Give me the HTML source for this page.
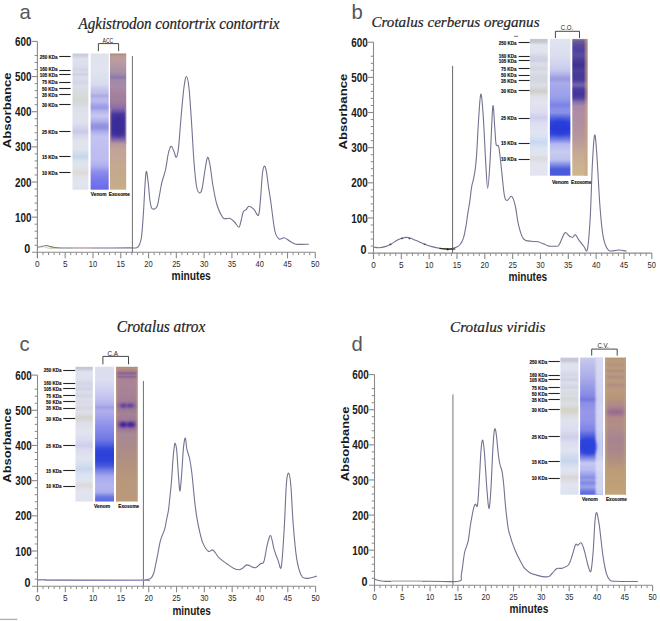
<!DOCTYPE html>
<html><head><meta charset="utf-8"><style>
html,body{margin:0;padding:0;background:#fff;}
body{width:660px;height:621px;overflow:hidden;font-family:"Liberation Sans",sans-serif;}
svg{display:block;}
</style></head><body>
<svg width="660" height="621" viewBox="0 0 660 621">
<defs>
<linearGradient id="a1" gradientUnits="userSpaceOnUse" x1="0" y1="53.5" x2="0" y2="189.7"><stop offset="0.0000" stop-color="#c6cad8"/><stop offset="0.0184" stop-color="#ced0de"/><stop offset="0.0404" stop-color="#dee0ec"/><stop offset="0.0918" stop-color="#dcdeec"/><stop offset="0.1211" stop-color="#d2d5e6"/><stop offset="0.1358" stop-color="#dadcea"/><stop offset="0.1527" stop-color="#ced0e4"/><stop offset="0.1725" stop-color="#dcdeec"/><stop offset="0.2166" stop-color="#d3d6e6"/><stop offset="0.2386" stop-color="#dcdfea"/><stop offset="0.2606" stop-color="#d8dce4"/><stop offset="0.2974" stop-color="#d8dcde"/><stop offset="0.3341" stop-color="#d5d8d5"/><stop offset="0.3708" stop-color="#d6dad8"/><stop offset="0.4001" stop-color="#dee0e8"/><stop offset="0.5029" stop-color="#e0e2f0"/><stop offset="0.5470" stop-color="#d2d4ea"/><stop offset="0.5742" stop-color="#c9c9e7"/><stop offset="0.5984" stop-color="#d5d6ec"/><stop offset="0.6498" stop-color="#e2e4ee"/><stop offset="0.7085" stop-color="#dce4ee"/><stop offset="0.7584" stop-color="#c4d6ec"/><stop offset="0.7893" stop-color="#dae2ee"/><stop offset="0.8260" stop-color="#e2e4ee"/><stop offset="0.8759" stop-color="#dddad8"/><stop offset="0.9141" stop-color="#e2e4ec"/><stop offset="0.9655" stop-color="#e2e4ee"/><stop offset="1.0000" stop-color="#dee0ee"/></linearGradient>
<linearGradient id="a2" gradientUnits="userSpaceOnUse" x1="0" y1="53.5" x2="0" y2="189.7"><stop offset="0.0000" stop-color="#e0e2ee"/><stop offset="0.1211" stop-color="#e1e4ee"/><stop offset="0.2239" stop-color="#dadcee"/><stop offset="0.2606" stop-color="#c8c8ec"/><stop offset="0.2900" stop-color="#bebeea"/><stop offset="0.3120" stop-color="#aaaae1"/><stop offset="0.3341" stop-color="#bcbcec"/><stop offset="0.3561" stop-color="#b8b8ee"/><stop offset="0.3781" stop-color="#a4a4e8"/><stop offset="0.4001" stop-color="#9898e6"/><stop offset="0.4222" stop-color="#b4b4ee"/><stop offset="0.4589" stop-color="#c8c8f0"/><stop offset="0.4956" stop-color="#b0b0ec"/><stop offset="0.5250" stop-color="#9494e2"/><stop offset="0.5470" stop-color="#9090e1"/><stop offset="0.5764" stop-color="#b0b0ec"/><stop offset="0.6131" stop-color="#c4c4f0"/><stop offset="0.7085" stop-color="#bebef0"/><stop offset="0.7819" stop-color="#bcbcf0"/><stop offset="0.8260" stop-color="#aeaef0"/><stop offset="0.8700" stop-color="#8c8cec"/><stop offset="0.9288" stop-color="#7878eb"/><stop offset="1.0000" stop-color="#6a6aea"/></linearGradient>
<linearGradient id="a3" gradientUnits="userSpaceOnUse" x1="0" y1="53.5" x2="0" y2="189.7"><stop offset="0.0000" stop-color="#a88474"/><stop offset="0.0184" stop-color="#be9c94"/><stop offset="0.0551" stop-color="#bc9ca0"/><stop offset="0.0991" stop-color="#b096a4"/><stop offset="0.1358" stop-color="#a890a8"/><stop offset="0.1579" stop-color="#9c84a8"/><stop offset="0.1762" stop-color="#8c78ac"/><stop offset="0.1946" stop-color="#a088ac"/><stop offset="0.2386" stop-color="#a88aa8"/><stop offset="0.3047" stop-color="#a4809e"/><stop offset="0.3561" stop-color="#a07ca0"/><stop offset="0.3928" stop-color="#9070a6"/><stop offset="0.4222" stop-color="#6c54a8"/><stop offset="0.4442" stop-color="#4a3a9e"/><stop offset="0.4883" stop-color="#40329a"/><stop offset="0.5617" stop-color="#40329a"/><stop offset="0.5984" stop-color="#4a3aa0"/><stop offset="0.6204" stop-color="#6c58a6"/><stop offset="0.6424" stop-color="#9478a4"/><stop offset="0.6645" stop-color="#b8989c"/><stop offset="0.7085" stop-color="#c2a498"/><stop offset="0.8186" stop-color="#c4a890"/><stop offset="0.9288" stop-color="#c6aa8a"/><stop offset="1.0000" stop-color="#c8ae88"/></linearGradient>
<clipPath id="a3c"><rect x="110.00" y="53.50" width="16.20" height="136.20"/></clipPath>
<filter id="bl14" x="-50%" y="-50%" width="200%" height="200%"><feGaussianBlur stdDeviation="1.40"/></filter>
<linearGradient id="a3l" x1="0" y1="0" x2="1" y2="0"><stop offset="0" stop-color="#c09aa0" stop-opacity="0.85"/><stop offset="1" stop-color="#c09aa0" stop-opacity="0.00"/></linearGradient>
<linearGradient id="a3r" x1="0" y1="0" x2="1" y2="0"><stop offset="0" stop-color="#c09aa0" stop-opacity="0.00"/><stop offset="1" stop-color="#c09aa0" stop-opacity="0.85"/></linearGradient>
<linearGradient id="b1" gradientUnits="userSpaceOnUse" x1="0" y1="38.9" x2="0" y2="175.7"><stop offset="0.0000" stop-color="#c2c6d2"/><stop offset="0.0197" stop-color="#c4c7d3"/><stop offset="0.0446" stop-color="#e2e4ee"/><stop offset="0.0958" stop-color="#e0e2ee"/><stop offset="0.1301" stop-color="#d2d6e4"/><stop offset="0.1564" stop-color="#ced0e1"/><stop offset="0.1835" stop-color="#dcdeea"/><stop offset="0.2200" stop-color="#d3d6e0"/><stop offset="0.2420" stop-color="#dcdee8"/><stop offset="0.2639" stop-color="#d6d8e2"/><stop offset="0.3048" stop-color="#d3d6de"/><stop offset="0.3370" stop-color="#dcdee6"/><stop offset="0.3838" stop-color="#cecec9"/><stop offset="0.4174" stop-color="#dee0e6"/><stop offset="0.4613" stop-color="#e2e4ee"/><stop offset="0.5344" stop-color="#dcdef0"/><stop offset="0.5760" stop-color="#ceceec"/><stop offset="0.6148" stop-color="#dcdef0"/><stop offset="0.6806" stop-color="#e2e4f1"/><stop offset="0.7171" stop-color="#d8e2f2"/><stop offset="0.7558" stop-color="#c9d8f1"/><stop offset="0.7975" stop-color="#dce4f2"/><stop offset="0.8414" stop-color="#e2e4f0"/><stop offset="0.8721" stop-color="#dddadd"/><stop offset="0.9145" stop-color="#e2e4f0"/><stop offset="1.0000" stop-color="#e2e4f1"/></linearGradient>
<linearGradient id="b2" gradientUnits="userSpaceOnUse" x1="0" y1="38.9" x2="0" y2="175.7"><stop offset="0.0000" stop-color="#e1e4f0"/><stop offset="0.1177" stop-color="#dcdef0"/><stop offset="0.1908" stop-color="#d0d2f0"/><stop offset="0.2273" stop-color="#c8c8ee"/><stop offset="0.2566" stop-color="#b4b4ea"/><stop offset="0.2931" stop-color="#9898e1"/><stop offset="0.3224" stop-color="#a8abea"/><stop offset="0.3735" stop-color="#a0a5eb"/><stop offset="0.4174" stop-color="#9aa0ea"/><stop offset="0.4539" stop-color="#8e94e8"/><stop offset="0.4832" stop-color="#7a80e6"/><stop offset="0.5124" stop-color="#8890e8"/><stop offset="0.5417" stop-color="#8890e8"/><stop offset="0.5709" stop-color="#5a6ae0"/><stop offset="0.6075" stop-color="#3248dc"/><stop offset="0.6513" stop-color="#283cd8"/><stop offset="0.6952" stop-color="#3448da"/><stop offset="0.7317" stop-color="#6c78e2"/><stop offset="0.7683" stop-color="#b4b8ee"/><stop offset="0.8268" stop-color="#c8ccf0"/><stop offset="0.8852" stop-color="#bcc0ee"/><stop offset="0.9218" stop-color="#7c88e4"/><stop offset="0.9510" stop-color="#4c5cdc"/><stop offset="1.0000" stop-color="#4a5ade"/></linearGradient>
<clipPath id="b2c"><rect x="549.90" y="38.90" width="20.50" height="136.80"/></clipPath>
<filter id="bl16" x="-50%" y="-50%" width="200%" height="200%"><feGaussianBlur stdDeviation="1.60"/></filter>
<clipPath id="c2c"><rect x="95.10" y="366.80" width="18.90" height="134.70"/></clipPath>
<linearGradient id="b3" gradientUnits="userSpaceOnUse" x1="0" y1="38.9" x2="0" y2="175.7"><stop offset="0.0000" stop-color="#988488"/><stop offset="0.0154" stop-color="#6c5c9c"/><stop offset="0.0446" stop-color="#5a4a9e"/><stop offset="0.0811" stop-color="#4e40a0"/><stop offset="0.1177" stop-color="#5a4c9c"/><stop offset="0.1542" stop-color="#4a3c98"/><stop offset="0.1908" stop-color="#3e3290"/><stop offset="0.2346" stop-color="#4c3e9a"/><stop offset="0.2712" stop-color="#463896"/><stop offset="0.3004" stop-color="#4a3c9c"/><stop offset="0.3370" stop-color="#7464ae"/><stop offset="0.3662" stop-color="#4c3ca0"/><stop offset="0.4028" stop-color="#42349e"/><stop offset="0.4320" stop-color="#5040a0"/><stop offset="0.4613" stop-color="#8870a8"/><stop offset="0.4905" stop-color="#a888a8"/><stop offset="0.5344" stop-color="#ae8ca4"/><stop offset="0.6294" stop-color="#b0909e"/><stop offset="0.7390" stop-color="#b8989a"/><stop offset="0.8268" stop-color="#c4a896"/><stop offset="0.9218" stop-color="#ccb290"/><stop offset="1.0000" stop-color="#d0b68c"/></linearGradient>
<linearGradient id="b3e" x1="0" y1="0" x2="1" y2="0"><stop offset="0" stop-color="#caa284" stop-opacity="0.00"/><stop offset="1" stop-color="#caa284" stop-opacity="0.90"/></linearGradient>
<linearGradient id="c1" gradientUnits="userSpaceOnUse" x1="0" y1="366.8" x2="0" y2="501.5"><stop offset="0.0000" stop-color="#c2c6d2"/><stop offset="0.0126" stop-color="#c4c9d8"/><stop offset="0.0386" stop-color="#e0e2ee"/><stop offset="0.0906" stop-color="#dee0ee"/><stop offset="0.1232" stop-color="#d2d6e6"/><stop offset="0.1425" stop-color="#d8daea"/><stop offset="0.1611" stop-color="#d0d3e6"/><stop offset="0.1871" stop-color="#dcdeec"/><stop offset="0.2153" stop-color="#d3d6e4"/><stop offset="0.2390" stop-color="#dcdeea"/><stop offset="0.2613" stop-color="#d8dae6"/><stop offset="0.2836" stop-color="#dcdee8"/><stop offset="0.3059" stop-color="#d5d6e0"/><stop offset="0.3356" stop-color="#dee0e8"/><stop offset="0.3801" stop-color="#d3d3ce"/><stop offset="0.4172" stop-color="#dee0e8"/><stop offset="0.4840" stop-color="#e2e4ee"/><stop offset="0.5434" stop-color="#dadcf0"/><stop offset="0.5828" stop-color="#ceceea"/><stop offset="0.6177" stop-color="#dadcf0"/><stop offset="0.6771" stop-color="#e2e4f0"/><stop offset="0.7216" stop-color="#d6e0ef"/><stop offset="0.7587" stop-color="#c9d6ee"/><stop offset="0.7958" stop-color="#dae2f0"/><stop offset="0.8404" stop-color="#e2e4f0"/><stop offset="0.8805" stop-color="#dddada"/><stop offset="0.9220" stop-color="#e2e4ee"/><stop offset="1.0000" stop-color="#e0e2ef"/></linearGradient>
<linearGradient id="c2" gradientUnits="userSpaceOnUse" x1="0" y1="366.8" x2="0" y2="501.5"><stop offset="0.0000" stop-color="#dcdeee"/><stop offset="0.0980" stop-color="#dcdef0"/><stop offset="0.1871" stop-color="#cccdf0"/><stop offset="0.2465" stop-color="#bebef0"/><stop offset="0.2762" stop-color="#b4b4ec"/><stop offset="0.3022" stop-color="#a0a0e6"/><stop offset="0.3281" stop-color="#b0b0ee"/><stop offset="0.3801" stop-color="#a0a0ec"/><stop offset="0.4395" stop-color="#8e90ea"/><stop offset="0.4989" stop-color="#7c82e6"/><stop offset="0.5434" stop-color="#6e76e4"/><stop offset="0.5805" stop-color="#5060e0"/><stop offset="0.6102" stop-color="#3248da"/><stop offset="0.6548" stop-color="#2a40d8"/><stop offset="0.6993" stop-color="#3046da"/><stop offset="0.7365" stop-color="#4a58de"/><stop offset="0.7736" stop-color="#7c84e6"/><stop offset="0.8107" stop-color="#a4a8ee"/><stop offset="0.8775" stop-color="#b4b6f0"/><stop offset="0.9295" stop-color="#acb0ee"/><stop offset="0.9666" stop-color="#6a78e4"/><stop offset="1.0000" stop-color="#5a68e2"/></linearGradient>
<linearGradient id="c3" gradientUnits="userSpaceOnUse" x1="0" y1="366.8" x2="0" y2="501.5"><stop offset="0.0000" stop-color="#b08a6c"/><stop offset="0.0126" stop-color="#b89078"/><stop offset="0.0275" stop-color="#a88496"/><stop offset="0.0497" stop-color="#8a6490"/><stop offset="0.0609" stop-color="#a07c96"/><stop offset="0.0742" stop-color="#8c6690"/><stop offset="0.0906" stop-color="#a88496"/><stop offset="0.1351" stop-color="#a88496"/><stop offset="0.2094" stop-color="#a68294"/><stop offset="0.2539" stop-color="#a07c98"/><stop offset="0.2873" stop-color="#8c6a9a"/><stop offset="0.3133" stop-color="#9c7898"/><stop offset="0.3504" stop-color="#a68294"/><stop offset="0.3875" stop-color="#9e7c98"/><stop offset="0.4284" stop-color="#7e5c98"/><stop offset="0.4618" stop-color="#987698"/><stop offset="0.4989" stop-color="#a88a94"/><stop offset="0.5805" stop-color="#aa8a8c"/><stop offset="0.6919" stop-color="#b09080"/><stop offset="0.8404" stop-color="#b8987c"/><stop offset="1.0000" stop-color="#ba9a7a"/></linearGradient>
<clipPath id="c3c"><rect x="116.00" y="366.80" width="21.60" height="134.70"/></clipPath>
<filter id="bl9" x="-50%" y="-50%" width="200%" height="200%"><feGaussianBlur stdDeviation="0.90"/></filter>
<linearGradient id="c3l" x1="0" y1="0" x2="1" y2="0"><stop offset="0" stop-color="#c49a7a" stop-opacity="0.85"/><stop offset="1" stop-color="#c49a7a" stop-opacity="0.00"/></linearGradient>
<linearGradient id="c3r" x1="0" y1="0" x2="1" y2="0"><stop offset="0" stop-color="#c49a7a" stop-opacity="0.00"/><stop offset="1" stop-color="#c49a7a" stop-opacity="0.85"/></linearGradient>
<linearGradient id="d1" gradientUnits="userSpaceOnUse" x1="0" y1="357.6" x2="0" y2="494.7"><stop offset="0.0000" stop-color="#caccda"/><stop offset="0.0197" stop-color="#c4c6d3"/><stop offset="0.0467" stop-color="#e0e2ee"/><stop offset="0.0904" stop-color="#dee0ee"/><stop offset="0.1291" stop-color="#d3d6e4"/><stop offset="0.1415" stop-color="#dadcea"/><stop offset="0.1597" stop-color="#cfd2e3"/><stop offset="0.1853" stop-color="#dcdeea"/><stop offset="0.2181" stop-color="#d1d4e3"/><stop offset="0.2363" stop-color="#dcdee8"/><stop offset="0.2633" stop-color="#d8dae2"/><stop offset="0.2801" stop-color="#dcdee6"/><stop offset="0.2969" stop-color="#d3d8d8"/><stop offset="0.3384" stop-color="#dcdee6"/><stop offset="0.3822" stop-color="#d3d3c4"/><stop offset="0.4187" stop-color="#dadcdc"/><stop offset="0.4551" stop-color="#e0e2ee"/><stop offset="0.5281" stop-color="#dcdef0"/><stop offset="0.5791" stop-color="#ceceea"/><stop offset="0.6156" stop-color="#dadcf0"/><stop offset="0.6740" stop-color="#e2e4ef"/><stop offset="0.7177" stop-color="#d2dcf0"/><stop offset="0.7564" stop-color="#c4d6ee"/><stop offset="0.7907" stop-color="#d8e0f0"/><stop offset="0.8271" stop-color="#e2e4f0"/><stop offset="0.8745" stop-color="#d8d6d8"/><stop offset="0.9220" stop-color="#e2e4ee"/><stop offset="1.0000" stop-color="#dee2f0"/></linearGradient>
<linearGradient id="d2" gradientUnits="userSpaceOnUse" x1="0" y1="357.6" x2="0" y2="494.7"><stop offset="0.0000" stop-color="#c8caee"/><stop offset="0.0540" stop-color="#bcbeec"/><stop offset="0.1269" stop-color="#aeb0ea"/><stop offset="0.1999" stop-color="#9c9ee6"/><stop offset="0.2509" stop-color="#8e90e6"/><stop offset="0.2801" stop-color="#8888e4"/><stop offset="0.3049" stop-color="#7478e0"/><stop offset="0.3311" stop-color="#8c8ee6"/><stop offset="0.3968" stop-color="#9898e8"/><stop offset="0.4697" stop-color="#9292e8"/><stop offset="0.5281" stop-color="#7c84e6"/><stop offset="0.5718" stop-color="#4c60e0"/><stop offset="0.6083" stop-color="#3248de"/><stop offset="0.6594" stop-color="#2e44dc"/><stop offset="0.6958" stop-color="#4052de"/><stop offset="0.7323" stop-color="#8088e6"/><stop offset="0.7688" stop-color="#c4c8f0"/><stop offset="0.8198" stop-color="#b8bcf0"/><stop offset="0.8745" stop-color="#8890e6"/><stop offset="0.8928" stop-color="#969ee8"/><stop offset="0.9139" stop-color="#8088e4"/><stop offset="0.9438" stop-color="#9ca4ea"/><stop offset="0.9730" stop-color="#6c78e2"/><stop offset="1.0000" stop-color="#5462e0"/></linearGradient>
<linearGradient id="d2h" x1="0" y1="0" x2="1" y2="0"><stop offset="0" stop-color="#dcdef2" stop-opacity="0"/><stop offset="0.35" stop-color="#dcdef2" stop-opacity="0.85"/><stop offset="1" stop-color="#dcdef2" stop-opacity="0.9"/></linearGradient>
<linearGradient id="d2v" gradientUnits="userSpaceOnUse" x1="0" y1="357.6" x2="0" y2="494.7"><stop offset="0.0000" stop-color="#fff"/><stop offset="0.5135" stop-color="#fff"/><stop offset="0.5864" stop-color="#202020"/><stop offset="0.6885" stop-color="#202020"/><stop offset="0.7615" stop-color="#b0b0b0"/><stop offset="0.8563" stop-color="#999"/><stop offset="1.0000" stop-color="#777"/></linearGradient>
<mask id="d2mask" maskUnits="userSpaceOnUse" x="580" y="357" width="24" height="138"><rect x="580" y="357.6" width="24" height="137.1" fill="url(#d2v)"/></mask>
<linearGradient id="d3" gradientUnits="userSpaceOnUse" x1="0" y1="357.6" x2="0" y2="494.7"><stop offset="0.0000" stop-color="#b09070"/><stop offset="0.0175" stop-color="#bc9c7c"/><stop offset="0.0540" stop-color="#b4927e"/><stop offset="0.0759" stop-color="#bc9c7c"/><stop offset="0.0977" stop-color="#b08e82"/><stop offset="0.1196" stop-color="#bc9c7c"/><stop offset="0.1415" stop-color="#b08e82"/><stop offset="0.1707" stop-color="#bc9c7c"/><stop offset="0.1999" stop-color="#b28e84"/><stop offset="0.2363" stop-color="#bc9c7c"/><stop offset="0.2947" stop-color="#b89478"/><stop offset="0.3457" stop-color="#b08a86"/><stop offset="0.3968" stop-color="#a07490"/><stop offset="0.4406" stop-color="#b08a86"/><stop offset="0.4916" stop-color="#b48e84"/><stop offset="0.5427" stop-color="#ac8a8c"/><stop offset="0.6010" stop-color="#a8848e"/><stop offset="0.6740" stop-color="#aa868c"/><stop offset="0.7469" stop-color="#b0907e"/><stop offset="0.8198" stop-color="#bc9c78"/><stop offset="1.0000" stop-color="#c2a278"/></linearGradient>
<clipPath id="d3c"><rect x="605.10" y="357.60" width="20.90" height="137.10"/></clipPath>
<filter id="bl10" x="-50%" y="-50%" width="200%" height="200%"><feGaussianBlur stdDeviation="1.00"/></filter>
<clipPath id="d2c"><rect x="580.10" y="357.60" width="22.70" height="137.10"/></clipPath>
<filter id="bl15" x="-50%" y="-50%" width="200%" height="200%"><feGaussianBlur stdDeviation="1.50"/></filter>
<linearGradient id="d3l" x1="0" y1="0" x2="1" y2="0"><stop offset="0" stop-color="#c4a07a" stop-opacity="0.80"/><stop offset="1" stop-color="#c4a07a" stop-opacity="0.00"/></linearGradient>
<linearGradient id="d3r" x1="0" y1="0" x2="1" y2="0"><stop offset="0" stop-color="#c4a07a" stop-opacity="0.00"/><stop offset="1" stop-color="#c4a07a" stop-opacity="0.80"/></linearGradient>
</defs>
<rect width="660" height="621" fill="#fff"/>
<line x1="37.4" y1="41.4" x2="37.4" y2="258.3" stroke="#8a8a8a" stroke-width="1.1"/>
<line x1="31.9" y1="252.3" x2="315.3" y2="252.3" stroke="#8a8a8a" stroke-width="1.1"/>
<line x1="34.6" y1="245.27" x2="37.4" y2="245.27" stroke="#8a8a8a" stroke-width="1"/>
<line x1="34.6" y1="238.24" x2="37.4" y2="238.24" stroke="#8a8a8a" stroke-width="1"/>
<line x1="34.6" y1="231.21" x2="37.4" y2="231.21" stroke="#8a8a8a" stroke-width="1"/>
<line x1="34.6" y1="224.18" x2="37.4" y2="224.18" stroke="#8a8a8a" stroke-width="1"/>
<line x1="31.9" y1="217.15" x2="37.4" y2="217.15" stroke="#8a8a8a" stroke-width="1.1"/>
<line x1="34.6" y1="210.12" x2="37.4" y2="210.12" stroke="#8a8a8a" stroke-width="1"/>
<line x1="34.6" y1="203.09" x2="37.4" y2="203.09" stroke="#8a8a8a" stroke-width="1"/>
<line x1="34.6" y1="196.06" x2="37.4" y2="196.06" stroke="#8a8a8a" stroke-width="1"/>
<line x1="34.6" y1="189.03" x2="37.4" y2="189.03" stroke="#8a8a8a" stroke-width="1"/>
<line x1="31.9" y1="182.00" x2="37.4" y2="182.00" stroke="#8a8a8a" stroke-width="1.1"/>
<line x1="34.6" y1="174.97" x2="37.4" y2="174.97" stroke="#8a8a8a" stroke-width="1"/>
<line x1="34.6" y1="167.94" x2="37.4" y2="167.94" stroke="#8a8a8a" stroke-width="1"/>
<line x1="34.6" y1="160.91" x2="37.4" y2="160.91" stroke="#8a8a8a" stroke-width="1"/>
<line x1="34.6" y1="153.88" x2="37.4" y2="153.88" stroke="#8a8a8a" stroke-width="1"/>
<line x1="31.9" y1="146.85" x2="37.4" y2="146.85" stroke="#8a8a8a" stroke-width="1.1"/>
<line x1="34.6" y1="139.82" x2="37.4" y2="139.82" stroke="#8a8a8a" stroke-width="1"/>
<line x1="34.6" y1="132.79" x2="37.4" y2="132.79" stroke="#8a8a8a" stroke-width="1"/>
<line x1="34.6" y1="125.76" x2="37.4" y2="125.76" stroke="#8a8a8a" stroke-width="1"/>
<line x1="34.6" y1="118.73" x2="37.4" y2="118.73" stroke="#8a8a8a" stroke-width="1"/>
<line x1="31.9" y1="111.70" x2="37.4" y2="111.70" stroke="#8a8a8a" stroke-width="1.1"/>
<line x1="34.6" y1="104.67" x2="37.4" y2="104.67" stroke="#8a8a8a" stroke-width="1"/>
<line x1="34.6" y1="97.64" x2="37.4" y2="97.64" stroke="#8a8a8a" stroke-width="1"/>
<line x1="34.6" y1="90.61" x2="37.4" y2="90.61" stroke="#8a8a8a" stroke-width="1"/>
<line x1="34.6" y1="83.58" x2="37.4" y2="83.58" stroke="#8a8a8a" stroke-width="1"/>
<line x1="31.9" y1="76.55" x2="37.4" y2="76.55" stroke="#8a8a8a" stroke-width="1.1"/>
<line x1="34.6" y1="69.52" x2="37.4" y2="69.52" stroke="#8a8a8a" stroke-width="1"/>
<line x1="34.6" y1="62.49" x2="37.4" y2="62.49" stroke="#8a8a8a" stroke-width="1"/>
<line x1="34.6" y1="55.46" x2="37.4" y2="55.46" stroke="#8a8a8a" stroke-width="1"/>
<line x1="31.9" y1="41.40" x2="37.4" y2="41.40" stroke="#8a8a8a" stroke-width="1.1"/>
<line x1="37.40" y1="252.3" x2="37.40" y2="258.3" stroke="#8a8a8a" stroke-width="1.1"/>
<line x1="42.96" y1="252.3" x2="42.96" y2="255.1" stroke="#8a8a8a" stroke-width="1"/>
<line x1="48.52" y1="252.3" x2="48.52" y2="255.1" stroke="#8a8a8a" stroke-width="1"/>
<line x1="54.07" y1="252.3" x2="54.07" y2="255.1" stroke="#8a8a8a" stroke-width="1"/>
<line x1="59.63" y1="252.3" x2="59.63" y2="255.1" stroke="#8a8a8a" stroke-width="1"/>
<line x1="65.19" y1="252.3" x2="65.19" y2="258.3" stroke="#8a8a8a" stroke-width="1.1"/>
<line x1="70.75" y1="252.3" x2="70.75" y2="255.1" stroke="#8a8a8a" stroke-width="1"/>
<line x1="76.31" y1="252.3" x2="76.31" y2="255.1" stroke="#8a8a8a" stroke-width="1"/>
<line x1="81.86" y1="252.3" x2="81.86" y2="255.1" stroke="#8a8a8a" stroke-width="1"/>
<line x1="87.42" y1="252.3" x2="87.42" y2="255.1" stroke="#8a8a8a" stroke-width="1"/>
<line x1="92.98" y1="252.3" x2="92.98" y2="258.3" stroke="#8a8a8a" stroke-width="1.1"/>
<line x1="98.54" y1="252.3" x2="98.54" y2="255.1" stroke="#8a8a8a" stroke-width="1"/>
<line x1="104.10" y1="252.3" x2="104.10" y2="255.1" stroke="#8a8a8a" stroke-width="1"/>
<line x1="109.65" y1="252.3" x2="109.65" y2="255.1" stroke="#8a8a8a" stroke-width="1"/>
<line x1="115.21" y1="252.3" x2="115.21" y2="255.1" stroke="#8a8a8a" stroke-width="1"/>
<line x1="120.77" y1="252.3" x2="120.77" y2="258.3" stroke="#8a8a8a" stroke-width="1.1"/>
<line x1="126.33" y1="252.3" x2="126.33" y2="255.1" stroke="#8a8a8a" stroke-width="1"/>
<line x1="131.89" y1="252.3" x2="131.89" y2="255.1" stroke="#8a8a8a" stroke-width="1"/>
<line x1="137.44" y1="252.3" x2="137.44" y2="255.1" stroke="#8a8a8a" stroke-width="1"/>
<line x1="143.00" y1="252.3" x2="143.00" y2="255.1" stroke="#8a8a8a" stroke-width="1"/>
<line x1="148.56" y1="252.3" x2="148.56" y2="258.3" stroke="#8a8a8a" stroke-width="1.1"/>
<line x1="154.12" y1="252.3" x2="154.12" y2="255.1" stroke="#8a8a8a" stroke-width="1"/>
<line x1="159.68" y1="252.3" x2="159.68" y2="255.1" stroke="#8a8a8a" stroke-width="1"/>
<line x1="165.23" y1="252.3" x2="165.23" y2="255.1" stroke="#8a8a8a" stroke-width="1"/>
<line x1="170.79" y1="252.3" x2="170.79" y2="255.1" stroke="#8a8a8a" stroke-width="1"/>
<line x1="176.35" y1="252.3" x2="176.35" y2="258.3" stroke="#8a8a8a" stroke-width="1.1"/>
<line x1="181.91" y1="252.3" x2="181.91" y2="255.1" stroke="#8a8a8a" stroke-width="1"/>
<line x1="187.47" y1="252.3" x2="187.47" y2="255.1" stroke="#8a8a8a" stroke-width="1"/>
<line x1="193.02" y1="252.3" x2="193.02" y2="255.1" stroke="#8a8a8a" stroke-width="1"/>
<line x1="198.58" y1="252.3" x2="198.58" y2="255.1" stroke="#8a8a8a" stroke-width="1"/>
<line x1="204.14" y1="252.3" x2="204.14" y2="258.3" stroke="#8a8a8a" stroke-width="1.1"/>
<line x1="209.70" y1="252.3" x2="209.70" y2="255.1" stroke="#8a8a8a" stroke-width="1"/>
<line x1="215.26" y1="252.3" x2="215.26" y2="255.1" stroke="#8a8a8a" stroke-width="1"/>
<line x1="220.81" y1="252.3" x2="220.81" y2="255.1" stroke="#8a8a8a" stroke-width="1"/>
<line x1="226.37" y1="252.3" x2="226.37" y2="255.1" stroke="#8a8a8a" stroke-width="1"/>
<line x1="231.93" y1="252.3" x2="231.93" y2="258.3" stroke="#8a8a8a" stroke-width="1.1"/>
<line x1="237.49" y1="252.3" x2="237.49" y2="255.1" stroke="#8a8a8a" stroke-width="1"/>
<line x1="243.05" y1="252.3" x2="243.05" y2="255.1" stroke="#8a8a8a" stroke-width="1"/>
<line x1="248.60" y1="252.3" x2="248.60" y2="255.1" stroke="#8a8a8a" stroke-width="1"/>
<line x1="254.16" y1="252.3" x2="254.16" y2="255.1" stroke="#8a8a8a" stroke-width="1"/>
<line x1="259.72" y1="252.3" x2="259.72" y2="258.3" stroke="#8a8a8a" stroke-width="1.1"/>
<line x1="265.28" y1="252.3" x2="265.28" y2="255.1" stroke="#8a8a8a" stroke-width="1"/>
<line x1="270.84" y1="252.3" x2="270.84" y2="255.1" stroke="#8a8a8a" stroke-width="1"/>
<line x1="276.39" y1="252.3" x2="276.39" y2="255.1" stroke="#8a8a8a" stroke-width="1"/>
<line x1="281.95" y1="252.3" x2="281.95" y2="255.1" stroke="#8a8a8a" stroke-width="1"/>
<line x1="287.51" y1="252.3" x2="287.51" y2="258.3" stroke="#8a8a8a" stroke-width="1.1"/>
<line x1="293.07" y1="252.3" x2="293.07" y2="255.1" stroke="#8a8a8a" stroke-width="1"/>
<line x1="298.63" y1="252.3" x2="298.63" y2="255.1" stroke="#8a8a8a" stroke-width="1"/>
<line x1="304.18" y1="252.3" x2="304.18" y2="255.1" stroke="#8a8a8a" stroke-width="1"/>
<line x1="309.74" y1="252.3" x2="309.74" y2="255.1" stroke="#8a8a8a" stroke-width="1"/>
<line x1="315.30" y1="252.3" x2="315.30" y2="258.3" stroke="#8a8a8a" stroke-width="1.1"/>
<text x="30.3" y="253.30" text-anchor="end" font-family="Liberation Sans" font-weight="bold" font-size="12.6" fill="#1a1a1a" textLength="6.0" lengthAdjust="spacingAndGlyphs">0</text>
<text x="31.6" y="221.75" text-anchor="end" font-family="Liberation Sans" font-weight="bold" font-size="12.6" fill="#1a1a1a" textLength="16.5" lengthAdjust="spacingAndGlyphs">100</text>
<text x="31.6" y="186.60" text-anchor="end" font-family="Liberation Sans" font-weight="bold" font-size="12.6" fill="#1a1a1a" textLength="16.5" lengthAdjust="spacingAndGlyphs">200</text>
<text x="31.6" y="151.45" text-anchor="end" font-family="Liberation Sans" font-weight="bold" font-size="12.6" fill="#1a1a1a" textLength="16.5" lengthAdjust="spacingAndGlyphs">300</text>
<text x="31.6" y="116.30" text-anchor="end" font-family="Liberation Sans" font-weight="bold" font-size="12.6" fill="#1a1a1a" textLength="16.5" lengthAdjust="spacingAndGlyphs">400</text>
<text x="31.6" y="81.15" text-anchor="end" font-family="Liberation Sans" font-weight="bold" font-size="12.6" fill="#1a1a1a" textLength="16.5" lengthAdjust="spacingAndGlyphs">500</text>
<text x="31.6" y="46.00" text-anchor="end" font-family="Liberation Sans" font-weight="bold" font-size="12.6" fill="#1a1a1a" textLength="16.5" lengthAdjust="spacingAndGlyphs">600</text>
<text x="37.40" y="267.1" text-anchor="middle" font-family="Liberation Sans" font-size="8.4" fill="#2a2a2a" textLength="4.6" lengthAdjust="spacingAndGlyphs">0</text>
<text x="65.19" y="267.1" text-anchor="middle" font-family="Liberation Sans" font-size="8.4" fill="#2a2a2a" textLength="4.6" lengthAdjust="spacingAndGlyphs">5</text>
<text x="92.98" y="267.1" text-anchor="middle" font-family="Liberation Sans" font-size="8.4" fill="#2a2a2a" textLength="8.4" lengthAdjust="spacingAndGlyphs">10</text>
<text x="120.77" y="267.1" text-anchor="middle" font-family="Liberation Sans" font-size="8.4" fill="#2a2a2a" textLength="8.4" lengthAdjust="spacingAndGlyphs">15</text>
<text x="148.56" y="267.1" text-anchor="middle" font-family="Liberation Sans" font-size="8.4" fill="#2a2a2a" textLength="8.4" lengthAdjust="spacingAndGlyphs">20</text>
<text x="176.35" y="267.1" text-anchor="middle" font-family="Liberation Sans" font-size="8.4" fill="#2a2a2a" textLength="8.4" lengthAdjust="spacingAndGlyphs">25</text>
<text x="204.14" y="267.1" text-anchor="middle" font-family="Liberation Sans" font-size="8.4" fill="#2a2a2a" textLength="8.4" lengthAdjust="spacingAndGlyphs">30</text>
<text x="231.93" y="267.1" text-anchor="middle" font-family="Liberation Sans" font-size="8.4" fill="#2a2a2a" textLength="8.4" lengthAdjust="spacingAndGlyphs">35</text>
<text x="259.72" y="267.1" text-anchor="middle" font-family="Liberation Sans" font-size="8.4" fill="#2a2a2a" textLength="8.4" lengthAdjust="spacingAndGlyphs">40</text>
<text x="287.51" y="267.1" text-anchor="middle" font-family="Liberation Sans" font-size="8.4" fill="#2a2a2a" textLength="8.4" lengthAdjust="spacingAndGlyphs">45</text>
<text x="315.30" y="267.1" text-anchor="middle" font-family="Liberation Sans" font-size="8.4" fill="#2a2a2a" textLength="8.4" lengthAdjust="spacingAndGlyphs">50</text>
<line x1="373.5" y1="42.2" x2="373.5" y2="259.1" stroke="#8a8a8a" stroke-width="1.1"/>
<line x1="368.0" y1="253.1" x2="651.8" y2="253.1" stroke="#8a8a8a" stroke-width="1.1"/>
<line x1="370.7" y1="246.07" x2="373.5" y2="246.07" stroke="#8a8a8a" stroke-width="1"/>
<line x1="370.7" y1="239.04" x2="373.5" y2="239.04" stroke="#8a8a8a" stroke-width="1"/>
<line x1="370.7" y1="232.01" x2="373.5" y2="232.01" stroke="#8a8a8a" stroke-width="1"/>
<line x1="370.7" y1="224.98" x2="373.5" y2="224.98" stroke="#8a8a8a" stroke-width="1"/>
<line x1="368.0" y1="217.95" x2="373.5" y2="217.95" stroke="#8a8a8a" stroke-width="1.1"/>
<line x1="370.7" y1="210.92" x2="373.5" y2="210.92" stroke="#8a8a8a" stroke-width="1"/>
<line x1="370.7" y1="203.89" x2="373.5" y2="203.89" stroke="#8a8a8a" stroke-width="1"/>
<line x1="370.7" y1="196.86" x2="373.5" y2="196.86" stroke="#8a8a8a" stroke-width="1"/>
<line x1="370.7" y1="189.83" x2="373.5" y2="189.83" stroke="#8a8a8a" stroke-width="1"/>
<line x1="368.0" y1="182.80" x2="373.5" y2="182.80" stroke="#8a8a8a" stroke-width="1.1"/>
<line x1="370.7" y1="175.77" x2="373.5" y2="175.77" stroke="#8a8a8a" stroke-width="1"/>
<line x1="370.7" y1="168.74" x2="373.5" y2="168.74" stroke="#8a8a8a" stroke-width="1"/>
<line x1="370.7" y1="161.71" x2="373.5" y2="161.71" stroke="#8a8a8a" stroke-width="1"/>
<line x1="370.7" y1="154.68" x2="373.5" y2="154.68" stroke="#8a8a8a" stroke-width="1"/>
<line x1="368.0" y1="147.65" x2="373.5" y2="147.65" stroke="#8a8a8a" stroke-width="1.1"/>
<line x1="370.7" y1="140.62" x2="373.5" y2="140.62" stroke="#8a8a8a" stroke-width="1"/>
<line x1="370.7" y1="133.59" x2="373.5" y2="133.59" stroke="#8a8a8a" stroke-width="1"/>
<line x1="370.7" y1="126.56" x2="373.5" y2="126.56" stroke="#8a8a8a" stroke-width="1"/>
<line x1="370.7" y1="119.53" x2="373.5" y2="119.53" stroke="#8a8a8a" stroke-width="1"/>
<line x1="368.0" y1="112.50" x2="373.5" y2="112.50" stroke="#8a8a8a" stroke-width="1.1"/>
<line x1="370.7" y1="105.47" x2="373.5" y2="105.47" stroke="#8a8a8a" stroke-width="1"/>
<line x1="370.7" y1="98.44" x2="373.5" y2="98.44" stroke="#8a8a8a" stroke-width="1"/>
<line x1="370.7" y1="91.41" x2="373.5" y2="91.41" stroke="#8a8a8a" stroke-width="1"/>
<line x1="370.7" y1="84.38" x2="373.5" y2="84.38" stroke="#8a8a8a" stroke-width="1"/>
<line x1="368.0" y1="77.35" x2="373.5" y2="77.35" stroke="#8a8a8a" stroke-width="1.1"/>
<line x1="370.7" y1="70.32" x2="373.5" y2="70.32" stroke="#8a8a8a" stroke-width="1"/>
<line x1="370.7" y1="63.29" x2="373.5" y2="63.29" stroke="#8a8a8a" stroke-width="1"/>
<line x1="370.7" y1="56.26" x2="373.5" y2="56.26" stroke="#8a8a8a" stroke-width="1"/>
<line x1="368.0" y1="42.20" x2="373.5" y2="42.20" stroke="#8a8a8a" stroke-width="1.1"/>
<line x1="373.50" y1="253.1" x2="373.50" y2="259.1" stroke="#8a8a8a" stroke-width="1.1"/>
<line x1="379.07" y1="253.1" x2="379.07" y2="255.9" stroke="#8a8a8a" stroke-width="1"/>
<line x1="384.63" y1="253.1" x2="384.63" y2="255.9" stroke="#8a8a8a" stroke-width="1"/>
<line x1="390.20" y1="253.1" x2="390.20" y2="255.9" stroke="#8a8a8a" stroke-width="1"/>
<line x1="395.76" y1="253.1" x2="395.76" y2="255.9" stroke="#8a8a8a" stroke-width="1"/>
<line x1="401.33" y1="253.1" x2="401.33" y2="259.1" stroke="#8a8a8a" stroke-width="1.1"/>
<line x1="406.90" y1="253.1" x2="406.90" y2="255.9" stroke="#8a8a8a" stroke-width="1"/>
<line x1="412.46" y1="253.1" x2="412.46" y2="255.9" stroke="#8a8a8a" stroke-width="1"/>
<line x1="418.03" y1="253.1" x2="418.03" y2="255.9" stroke="#8a8a8a" stroke-width="1"/>
<line x1="423.59" y1="253.1" x2="423.59" y2="255.9" stroke="#8a8a8a" stroke-width="1"/>
<line x1="429.16" y1="253.1" x2="429.16" y2="259.1" stroke="#8a8a8a" stroke-width="1.1"/>
<line x1="434.73" y1="253.1" x2="434.73" y2="255.9" stroke="#8a8a8a" stroke-width="1"/>
<line x1="440.29" y1="253.1" x2="440.29" y2="255.9" stroke="#8a8a8a" stroke-width="1"/>
<line x1="445.86" y1="253.1" x2="445.86" y2="255.9" stroke="#8a8a8a" stroke-width="1"/>
<line x1="451.42" y1="253.1" x2="451.42" y2="255.9" stroke="#8a8a8a" stroke-width="1"/>
<line x1="456.99" y1="253.1" x2="456.99" y2="259.1" stroke="#8a8a8a" stroke-width="1.1"/>
<line x1="462.56" y1="253.1" x2="462.56" y2="255.9" stroke="#8a8a8a" stroke-width="1"/>
<line x1="468.12" y1="253.1" x2="468.12" y2="255.9" stroke="#8a8a8a" stroke-width="1"/>
<line x1="473.69" y1="253.1" x2="473.69" y2="255.9" stroke="#8a8a8a" stroke-width="1"/>
<line x1="479.25" y1="253.1" x2="479.25" y2="255.9" stroke="#8a8a8a" stroke-width="1"/>
<line x1="484.82" y1="253.1" x2="484.82" y2="259.1" stroke="#8a8a8a" stroke-width="1.1"/>
<line x1="490.39" y1="253.1" x2="490.39" y2="255.9" stroke="#8a8a8a" stroke-width="1"/>
<line x1="495.95" y1="253.1" x2="495.95" y2="255.9" stroke="#8a8a8a" stroke-width="1"/>
<line x1="501.52" y1="253.1" x2="501.52" y2="255.9" stroke="#8a8a8a" stroke-width="1"/>
<line x1="507.08" y1="253.1" x2="507.08" y2="255.9" stroke="#8a8a8a" stroke-width="1"/>
<line x1="512.65" y1="253.1" x2="512.65" y2="259.1" stroke="#8a8a8a" stroke-width="1.1"/>
<line x1="518.22" y1="253.1" x2="518.22" y2="255.9" stroke="#8a8a8a" stroke-width="1"/>
<line x1="523.78" y1="253.1" x2="523.78" y2="255.9" stroke="#8a8a8a" stroke-width="1"/>
<line x1="529.35" y1="253.1" x2="529.35" y2="255.9" stroke="#8a8a8a" stroke-width="1"/>
<line x1="534.91" y1="253.1" x2="534.91" y2="255.9" stroke="#8a8a8a" stroke-width="1"/>
<line x1="540.48" y1="253.1" x2="540.48" y2="259.1" stroke="#8a8a8a" stroke-width="1.1"/>
<line x1="546.05" y1="253.1" x2="546.05" y2="255.9" stroke="#8a8a8a" stroke-width="1"/>
<line x1="551.61" y1="253.1" x2="551.61" y2="255.9" stroke="#8a8a8a" stroke-width="1"/>
<line x1="557.18" y1="253.1" x2="557.18" y2="255.9" stroke="#8a8a8a" stroke-width="1"/>
<line x1="562.74" y1="253.1" x2="562.74" y2="255.9" stroke="#8a8a8a" stroke-width="1"/>
<line x1="568.31" y1="253.1" x2="568.31" y2="259.1" stroke="#8a8a8a" stroke-width="1.1"/>
<line x1="573.88" y1="253.1" x2="573.88" y2="255.9" stroke="#8a8a8a" stroke-width="1"/>
<line x1="579.44" y1="253.1" x2="579.44" y2="255.9" stroke="#8a8a8a" stroke-width="1"/>
<line x1="585.01" y1="253.1" x2="585.01" y2="255.9" stroke="#8a8a8a" stroke-width="1"/>
<line x1="590.57" y1="253.1" x2="590.57" y2="255.9" stroke="#8a8a8a" stroke-width="1"/>
<line x1="596.14" y1="253.1" x2="596.14" y2="259.1" stroke="#8a8a8a" stroke-width="1.1"/>
<line x1="601.71" y1="253.1" x2="601.71" y2="255.9" stroke="#8a8a8a" stroke-width="1"/>
<line x1="607.27" y1="253.1" x2="607.27" y2="255.9" stroke="#8a8a8a" stroke-width="1"/>
<line x1="612.84" y1="253.1" x2="612.84" y2="255.9" stroke="#8a8a8a" stroke-width="1"/>
<line x1="618.40" y1="253.1" x2="618.40" y2="255.9" stroke="#8a8a8a" stroke-width="1"/>
<line x1="623.97" y1="253.1" x2="623.97" y2="259.1" stroke="#8a8a8a" stroke-width="1.1"/>
<line x1="629.54" y1="253.1" x2="629.54" y2="255.9" stroke="#8a8a8a" stroke-width="1"/>
<line x1="635.10" y1="253.1" x2="635.10" y2="255.9" stroke="#8a8a8a" stroke-width="1"/>
<line x1="640.67" y1="253.1" x2="640.67" y2="255.9" stroke="#8a8a8a" stroke-width="1"/>
<line x1="646.23" y1="253.1" x2="646.23" y2="255.9" stroke="#8a8a8a" stroke-width="1"/>
<line x1="651.80" y1="253.1" x2="651.80" y2="259.1" stroke="#8a8a8a" stroke-width="1.1"/>
<text x="366.4" y="254.10" text-anchor="end" font-family="Liberation Sans" font-weight="bold" font-size="12.6" fill="#1a1a1a" textLength="6.0" lengthAdjust="spacingAndGlyphs">0</text>
<text x="367.7" y="222.55" text-anchor="end" font-family="Liberation Sans" font-weight="bold" font-size="12.6" fill="#1a1a1a" textLength="16.5" lengthAdjust="spacingAndGlyphs">100</text>
<text x="367.7" y="187.40" text-anchor="end" font-family="Liberation Sans" font-weight="bold" font-size="12.6" fill="#1a1a1a" textLength="16.5" lengthAdjust="spacingAndGlyphs">200</text>
<text x="367.7" y="152.25" text-anchor="end" font-family="Liberation Sans" font-weight="bold" font-size="12.6" fill="#1a1a1a" textLength="16.5" lengthAdjust="spacingAndGlyphs">300</text>
<text x="367.7" y="117.10" text-anchor="end" font-family="Liberation Sans" font-weight="bold" font-size="12.6" fill="#1a1a1a" textLength="16.5" lengthAdjust="spacingAndGlyphs">400</text>
<text x="367.7" y="81.95" text-anchor="end" font-family="Liberation Sans" font-weight="bold" font-size="12.6" fill="#1a1a1a" textLength="16.5" lengthAdjust="spacingAndGlyphs">500</text>
<text x="367.7" y="46.80" text-anchor="end" font-family="Liberation Sans" font-weight="bold" font-size="12.6" fill="#1a1a1a" textLength="16.5" lengthAdjust="spacingAndGlyphs">600</text>
<text x="373.50" y="267.9" text-anchor="middle" font-family="Liberation Sans" font-size="8.4" fill="#2a2a2a" textLength="4.6" lengthAdjust="spacingAndGlyphs">0</text>
<text x="401.33" y="267.9" text-anchor="middle" font-family="Liberation Sans" font-size="8.4" fill="#2a2a2a" textLength="4.6" lengthAdjust="spacingAndGlyphs">5</text>
<text x="429.16" y="267.9" text-anchor="middle" font-family="Liberation Sans" font-size="8.4" fill="#2a2a2a" textLength="8.4" lengthAdjust="spacingAndGlyphs">10</text>
<text x="456.99" y="267.9" text-anchor="middle" font-family="Liberation Sans" font-size="8.4" fill="#2a2a2a" textLength="8.4" lengthAdjust="spacingAndGlyphs">15</text>
<text x="484.82" y="267.9" text-anchor="middle" font-family="Liberation Sans" font-size="8.4" fill="#2a2a2a" textLength="8.4" lengthAdjust="spacingAndGlyphs">20</text>
<text x="512.65" y="267.9" text-anchor="middle" font-family="Liberation Sans" font-size="8.4" fill="#2a2a2a" textLength="8.4" lengthAdjust="spacingAndGlyphs">25</text>
<text x="540.48" y="267.9" text-anchor="middle" font-family="Liberation Sans" font-size="8.4" fill="#2a2a2a" textLength="8.4" lengthAdjust="spacingAndGlyphs">30</text>
<text x="568.31" y="267.9" text-anchor="middle" font-family="Liberation Sans" font-size="8.4" fill="#2a2a2a" textLength="8.4" lengthAdjust="spacingAndGlyphs">35</text>
<text x="596.14" y="267.9" text-anchor="middle" font-family="Liberation Sans" font-size="8.4" fill="#2a2a2a" textLength="8.4" lengthAdjust="spacingAndGlyphs">40</text>
<text x="623.97" y="267.9" text-anchor="middle" font-family="Liberation Sans" font-size="8.4" fill="#2a2a2a" textLength="8.4" lengthAdjust="spacingAndGlyphs">45</text>
<text x="651.80" y="267.9" text-anchor="middle" font-family="Liberation Sans" font-size="8.4" fill="#2a2a2a" textLength="8.4" lengthAdjust="spacingAndGlyphs">50</text>
<line x1="37.5" y1="375.1" x2="37.5" y2="592.2" stroke="#8a8a8a" stroke-width="1.1"/>
<line x1="32.0" y1="586.2" x2="315.6" y2="586.2" stroke="#8a8a8a" stroke-width="1.1"/>
<line x1="34.7" y1="579.16" x2="37.5" y2="579.16" stroke="#8a8a8a" stroke-width="1"/>
<line x1="34.7" y1="572.13" x2="37.5" y2="572.13" stroke="#8a8a8a" stroke-width="1"/>
<line x1="34.7" y1="565.09" x2="37.5" y2="565.09" stroke="#8a8a8a" stroke-width="1"/>
<line x1="34.7" y1="558.05" x2="37.5" y2="558.05" stroke="#8a8a8a" stroke-width="1"/>
<line x1="32.0" y1="551.02" x2="37.5" y2="551.02" stroke="#8a8a8a" stroke-width="1.1"/>
<line x1="34.7" y1="543.98" x2="37.5" y2="543.98" stroke="#8a8a8a" stroke-width="1"/>
<line x1="34.7" y1="536.94" x2="37.5" y2="536.94" stroke="#8a8a8a" stroke-width="1"/>
<line x1="34.7" y1="529.91" x2="37.5" y2="529.91" stroke="#8a8a8a" stroke-width="1"/>
<line x1="34.7" y1="522.87" x2="37.5" y2="522.87" stroke="#8a8a8a" stroke-width="1"/>
<line x1="32.0" y1="515.83" x2="37.5" y2="515.83" stroke="#8a8a8a" stroke-width="1.1"/>
<line x1="34.7" y1="508.80" x2="37.5" y2="508.80" stroke="#8a8a8a" stroke-width="1"/>
<line x1="34.7" y1="501.76" x2="37.5" y2="501.76" stroke="#8a8a8a" stroke-width="1"/>
<line x1="34.7" y1="494.72" x2="37.5" y2="494.72" stroke="#8a8a8a" stroke-width="1"/>
<line x1="34.7" y1="487.69" x2="37.5" y2="487.69" stroke="#8a8a8a" stroke-width="1"/>
<line x1="32.0" y1="480.65" x2="37.5" y2="480.65" stroke="#8a8a8a" stroke-width="1.1"/>
<line x1="34.7" y1="473.61" x2="37.5" y2="473.61" stroke="#8a8a8a" stroke-width="1"/>
<line x1="34.7" y1="466.58" x2="37.5" y2="466.58" stroke="#8a8a8a" stroke-width="1"/>
<line x1="34.7" y1="459.54" x2="37.5" y2="459.54" stroke="#8a8a8a" stroke-width="1"/>
<line x1="34.7" y1="452.50" x2="37.5" y2="452.50" stroke="#8a8a8a" stroke-width="1"/>
<line x1="32.0" y1="445.47" x2="37.5" y2="445.47" stroke="#8a8a8a" stroke-width="1.1"/>
<line x1="34.7" y1="438.43" x2="37.5" y2="438.43" stroke="#8a8a8a" stroke-width="1"/>
<line x1="34.7" y1="431.39" x2="37.5" y2="431.39" stroke="#8a8a8a" stroke-width="1"/>
<line x1="34.7" y1="424.36" x2="37.5" y2="424.36" stroke="#8a8a8a" stroke-width="1"/>
<line x1="34.7" y1="417.32" x2="37.5" y2="417.32" stroke="#8a8a8a" stroke-width="1"/>
<line x1="32.0" y1="410.28" x2="37.5" y2="410.28" stroke="#8a8a8a" stroke-width="1.1"/>
<line x1="34.7" y1="403.25" x2="37.5" y2="403.25" stroke="#8a8a8a" stroke-width="1"/>
<line x1="34.7" y1="396.21" x2="37.5" y2="396.21" stroke="#8a8a8a" stroke-width="1"/>
<line x1="34.7" y1="389.17" x2="37.5" y2="389.17" stroke="#8a8a8a" stroke-width="1"/>
<line x1="32.0" y1="375.10" x2="37.5" y2="375.10" stroke="#8a8a8a" stroke-width="1.1"/>
<line x1="37.50" y1="586.2" x2="37.50" y2="592.2" stroke="#8a8a8a" stroke-width="1.1"/>
<line x1="43.06" y1="586.2" x2="43.06" y2="589.0" stroke="#8a8a8a" stroke-width="1"/>
<line x1="48.62" y1="586.2" x2="48.62" y2="589.0" stroke="#8a8a8a" stroke-width="1"/>
<line x1="54.19" y1="586.2" x2="54.19" y2="589.0" stroke="#8a8a8a" stroke-width="1"/>
<line x1="59.75" y1="586.2" x2="59.75" y2="589.0" stroke="#8a8a8a" stroke-width="1"/>
<line x1="65.31" y1="586.2" x2="65.31" y2="592.2" stroke="#8a8a8a" stroke-width="1.1"/>
<line x1="70.87" y1="586.2" x2="70.87" y2="589.0" stroke="#8a8a8a" stroke-width="1"/>
<line x1="76.43" y1="586.2" x2="76.43" y2="589.0" stroke="#8a8a8a" stroke-width="1"/>
<line x1="82.00" y1="586.2" x2="82.00" y2="589.0" stroke="#8a8a8a" stroke-width="1"/>
<line x1="87.56" y1="586.2" x2="87.56" y2="589.0" stroke="#8a8a8a" stroke-width="1"/>
<line x1="93.12" y1="586.2" x2="93.12" y2="592.2" stroke="#8a8a8a" stroke-width="1.1"/>
<line x1="98.68" y1="586.2" x2="98.68" y2="589.0" stroke="#8a8a8a" stroke-width="1"/>
<line x1="104.24" y1="586.2" x2="104.24" y2="589.0" stroke="#8a8a8a" stroke-width="1"/>
<line x1="109.81" y1="586.2" x2="109.81" y2="589.0" stroke="#8a8a8a" stroke-width="1"/>
<line x1="115.37" y1="586.2" x2="115.37" y2="589.0" stroke="#8a8a8a" stroke-width="1"/>
<line x1="120.93" y1="586.2" x2="120.93" y2="592.2" stroke="#8a8a8a" stroke-width="1.1"/>
<line x1="126.49" y1="586.2" x2="126.49" y2="589.0" stroke="#8a8a8a" stroke-width="1"/>
<line x1="132.05" y1="586.2" x2="132.05" y2="589.0" stroke="#8a8a8a" stroke-width="1"/>
<line x1="137.62" y1="586.2" x2="137.62" y2="589.0" stroke="#8a8a8a" stroke-width="1"/>
<line x1="143.18" y1="586.2" x2="143.18" y2="589.0" stroke="#8a8a8a" stroke-width="1"/>
<line x1="148.74" y1="586.2" x2="148.74" y2="592.2" stroke="#8a8a8a" stroke-width="1.1"/>
<line x1="154.30" y1="586.2" x2="154.30" y2="589.0" stroke="#8a8a8a" stroke-width="1"/>
<line x1="159.86" y1="586.2" x2="159.86" y2="589.0" stroke="#8a8a8a" stroke-width="1"/>
<line x1="165.43" y1="586.2" x2="165.43" y2="589.0" stroke="#8a8a8a" stroke-width="1"/>
<line x1="170.99" y1="586.2" x2="170.99" y2="589.0" stroke="#8a8a8a" stroke-width="1"/>
<line x1="176.55" y1="586.2" x2="176.55" y2="592.2" stroke="#8a8a8a" stroke-width="1.1"/>
<line x1="182.11" y1="586.2" x2="182.11" y2="589.0" stroke="#8a8a8a" stroke-width="1"/>
<line x1="187.67" y1="586.2" x2="187.67" y2="589.0" stroke="#8a8a8a" stroke-width="1"/>
<line x1="193.24" y1="586.2" x2="193.24" y2="589.0" stroke="#8a8a8a" stroke-width="1"/>
<line x1="198.80" y1="586.2" x2="198.80" y2="589.0" stroke="#8a8a8a" stroke-width="1"/>
<line x1="204.36" y1="586.2" x2="204.36" y2="592.2" stroke="#8a8a8a" stroke-width="1.1"/>
<line x1="209.92" y1="586.2" x2="209.92" y2="589.0" stroke="#8a8a8a" stroke-width="1"/>
<line x1="215.48" y1="586.2" x2="215.48" y2="589.0" stroke="#8a8a8a" stroke-width="1"/>
<line x1="221.05" y1="586.2" x2="221.05" y2="589.0" stroke="#8a8a8a" stroke-width="1"/>
<line x1="226.61" y1="586.2" x2="226.61" y2="589.0" stroke="#8a8a8a" stroke-width="1"/>
<line x1="232.17" y1="586.2" x2="232.17" y2="592.2" stroke="#8a8a8a" stroke-width="1.1"/>
<line x1="237.73" y1="586.2" x2="237.73" y2="589.0" stroke="#8a8a8a" stroke-width="1"/>
<line x1="243.29" y1="586.2" x2="243.29" y2="589.0" stroke="#8a8a8a" stroke-width="1"/>
<line x1="248.86" y1="586.2" x2="248.86" y2="589.0" stroke="#8a8a8a" stroke-width="1"/>
<line x1="254.42" y1="586.2" x2="254.42" y2="589.0" stroke="#8a8a8a" stroke-width="1"/>
<line x1="259.98" y1="586.2" x2="259.98" y2="592.2" stroke="#8a8a8a" stroke-width="1.1"/>
<line x1="265.54" y1="586.2" x2="265.54" y2="589.0" stroke="#8a8a8a" stroke-width="1"/>
<line x1="271.10" y1="586.2" x2="271.10" y2="589.0" stroke="#8a8a8a" stroke-width="1"/>
<line x1="276.67" y1="586.2" x2="276.67" y2="589.0" stroke="#8a8a8a" stroke-width="1"/>
<line x1="282.23" y1="586.2" x2="282.23" y2="589.0" stroke="#8a8a8a" stroke-width="1"/>
<line x1="287.79" y1="586.2" x2="287.79" y2="592.2" stroke="#8a8a8a" stroke-width="1.1"/>
<line x1="293.35" y1="586.2" x2="293.35" y2="589.0" stroke="#8a8a8a" stroke-width="1"/>
<line x1="298.91" y1="586.2" x2="298.91" y2="589.0" stroke="#8a8a8a" stroke-width="1"/>
<line x1="304.48" y1="586.2" x2="304.48" y2="589.0" stroke="#8a8a8a" stroke-width="1"/>
<line x1="310.04" y1="586.2" x2="310.04" y2="589.0" stroke="#8a8a8a" stroke-width="1"/>
<line x1="315.60" y1="586.2" x2="315.60" y2="592.2" stroke="#8a8a8a" stroke-width="1.1"/>
<text x="30.4" y="587.20" text-anchor="end" font-family="Liberation Sans" font-weight="bold" font-size="12.6" fill="#1a1a1a" textLength="6.0" lengthAdjust="spacingAndGlyphs">0</text>
<text x="31.7" y="555.62" text-anchor="end" font-family="Liberation Sans" font-weight="bold" font-size="12.6" fill="#1a1a1a" textLength="16.5" lengthAdjust="spacingAndGlyphs">100</text>
<text x="31.7" y="520.43" text-anchor="end" font-family="Liberation Sans" font-weight="bold" font-size="12.6" fill="#1a1a1a" textLength="16.5" lengthAdjust="spacingAndGlyphs">200</text>
<text x="31.7" y="485.25" text-anchor="end" font-family="Liberation Sans" font-weight="bold" font-size="12.6" fill="#1a1a1a" textLength="16.5" lengthAdjust="spacingAndGlyphs">300</text>
<text x="31.7" y="450.07" text-anchor="end" font-family="Liberation Sans" font-weight="bold" font-size="12.6" fill="#1a1a1a" textLength="16.5" lengthAdjust="spacingAndGlyphs">400</text>
<text x="31.7" y="414.88" text-anchor="end" font-family="Liberation Sans" font-weight="bold" font-size="12.6" fill="#1a1a1a" textLength="16.5" lengthAdjust="spacingAndGlyphs">500</text>
<text x="31.7" y="379.70" text-anchor="end" font-family="Liberation Sans" font-weight="bold" font-size="12.6" fill="#1a1a1a" textLength="16.5" lengthAdjust="spacingAndGlyphs">600</text>
<text x="37.50" y="601.0" text-anchor="middle" font-family="Liberation Sans" font-size="8.4" fill="#2a2a2a" textLength="4.6" lengthAdjust="spacingAndGlyphs">0</text>
<text x="65.31" y="601.0" text-anchor="middle" font-family="Liberation Sans" font-size="8.4" fill="#2a2a2a" textLength="4.6" lengthAdjust="spacingAndGlyphs">5</text>
<text x="93.12" y="601.0" text-anchor="middle" font-family="Liberation Sans" font-size="8.4" fill="#2a2a2a" textLength="8.4" lengthAdjust="spacingAndGlyphs">10</text>
<text x="120.93" y="601.0" text-anchor="middle" font-family="Liberation Sans" font-size="8.4" fill="#2a2a2a" textLength="8.4" lengthAdjust="spacingAndGlyphs">15</text>
<text x="148.74" y="601.0" text-anchor="middle" font-family="Liberation Sans" font-size="8.4" fill="#2a2a2a" textLength="8.4" lengthAdjust="spacingAndGlyphs">20</text>
<text x="176.55" y="601.0" text-anchor="middle" font-family="Liberation Sans" font-size="8.4" fill="#2a2a2a" textLength="8.4" lengthAdjust="spacingAndGlyphs">25</text>
<text x="204.36" y="601.0" text-anchor="middle" font-family="Liberation Sans" font-size="8.4" fill="#2a2a2a" textLength="8.4" lengthAdjust="spacingAndGlyphs">30</text>
<text x="232.17" y="601.0" text-anchor="middle" font-family="Liberation Sans" font-size="8.4" fill="#2a2a2a" textLength="8.4" lengthAdjust="spacingAndGlyphs">35</text>
<text x="259.98" y="601.0" text-anchor="middle" font-family="Liberation Sans" font-size="8.4" fill="#2a2a2a" textLength="8.4" lengthAdjust="spacingAndGlyphs">40</text>
<text x="287.79" y="601.0" text-anchor="middle" font-family="Liberation Sans" font-size="8.4" fill="#2a2a2a" textLength="8.4" lengthAdjust="spacingAndGlyphs">45</text>
<text x="315.60" y="601.0" text-anchor="middle" font-family="Liberation Sans" font-size="8.4" fill="#2a2a2a" textLength="8.4" lengthAdjust="spacingAndGlyphs">50</text>
<line x1="374.5" y1="374.6" x2="374.5" y2="591.3" stroke="#8a8a8a" stroke-width="1.1"/>
<line x1="369.0" y1="585.3" x2="652.6" y2="585.3" stroke="#8a8a8a" stroke-width="1.1"/>
<line x1="371.7" y1="578.28" x2="374.5" y2="578.28" stroke="#8a8a8a" stroke-width="1"/>
<line x1="371.7" y1="571.25" x2="374.5" y2="571.25" stroke="#8a8a8a" stroke-width="1"/>
<line x1="371.7" y1="564.23" x2="374.5" y2="564.23" stroke="#8a8a8a" stroke-width="1"/>
<line x1="371.7" y1="557.21" x2="374.5" y2="557.21" stroke="#8a8a8a" stroke-width="1"/>
<line x1="369.0" y1="550.18" x2="374.5" y2="550.18" stroke="#8a8a8a" stroke-width="1.1"/>
<line x1="371.7" y1="543.16" x2="374.5" y2="543.16" stroke="#8a8a8a" stroke-width="1"/>
<line x1="371.7" y1="536.14" x2="374.5" y2="536.14" stroke="#8a8a8a" stroke-width="1"/>
<line x1="371.7" y1="529.11" x2="374.5" y2="529.11" stroke="#8a8a8a" stroke-width="1"/>
<line x1="371.7" y1="522.09" x2="374.5" y2="522.09" stroke="#8a8a8a" stroke-width="1"/>
<line x1="369.0" y1="515.07" x2="374.5" y2="515.07" stroke="#8a8a8a" stroke-width="1.1"/>
<line x1="371.7" y1="508.04" x2="374.5" y2="508.04" stroke="#8a8a8a" stroke-width="1"/>
<line x1="371.7" y1="501.02" x2="374.5" y2="501.02" stroke="#8a8a8a" stroke-width="1"/>
<line x1="371.7" y1="494.00" x2="374.5" y2="494.00" stroke="#8a8a8a" stroke-width="1"/>
<line x1="371.7" y1="486.97" x2="374.5" y2="486.97" stroke="#8a8a8a" stroke-width="1"/>
<line x1="369.0" y1="479.95" x2="374.5" y2="479.95" stroke="#8a8a8a" stroke-width="1.1"/>
<line x1="371.7" y1="472.93" x2="374.5" y2="472.93" stroke="#8a8a8a" stroke-width="1"/>
<line x1="371.7" y1="465.90" x2="374.5" y2="465.90" stroke="#8a8a8a" stroke-width="1"/>
<line x1="371.7" y1="458.88" x2="374.5" y2="458.88" stroke="#8a8a8a" stroke-width="1"/>
<line x1="371.7" y1="451.86" x2="374.5" y2="451.86" stroke="#8a8a8a" stroke-width="1"/>
<line x1="369.0" y1="444.83" x2="374.5" y2="444.83" stroke="#8a8a8a" stroke-width="1.1"/>
<line x1="371.7" y1="437.81" x2="374.5" y2="437.81" stroke="#8a8a8a" stroke-width="1"/>
<line x1="371.7" y1="430.79" x2="374.5" y2="430.79" stroke="#8a8a8a" stroke-width="1"/>
<line x1="371.7" y1="423.76" x2="374.5" y2="423.76" stroke="#8a8a8a" stroke-width="1"/>
<line x1="371.7" y1="416.74" x2="374.5" y2="416.74" stroke="#8a8a8a" stroke-width="1"/>
<line x1="369.0" y1="409.72" x2="374.5" y2="409.72" stroke="#8a8a8a" stroke-width="1.1"/>
<line x1="371.7" y1="402.69" x2="374.5" y2="402.69" stroke="#8a8a8a" stroke-width="1"/>
<line x1="371.7" y1="395.67" x2="374.5" y2="395.67" stroke="#8a8a8a" stroke-width="1"/>
<line x1="371.7" y1="388.65" x2="374.5" y2="388.65" stroke="#8a8a8a" stroke-width="1"/>
<line x1="369.0" y1="374.60" x2="374.5" y2="374.60" stroke="#8a8a8a" stroke-width="1.1"/>
<line x1="374.50" y1="585.3" x2="374.50" y2="591.3" stroke="#8a8a8a" stroke-width="1.1"/>
<line x1="380.06" y1="585.3" x2="380.06" y2="588.1" stroke="#8a8a8a" stroke-width="1"/>
<line x1="385.62" y1="585.3" x2="385.62" y2="588.1" stroke="#8a8a8a" stroke-width="1"/>
<line x1="391.19" y1="585.3" x2="391.19" y2="588.1" stroke="#8a8a8a" stroke-width="1"/>
<line x1="396.75" y1="585.3" x2="396.75" y2="588.1" stroke="#8a8a8a" stroke-width="1"/>
<line x1="402.31" y1="585.3" x2="402.31" y2="591.3" stroke="#8a8a8a" stroke-width="1.1"/>
<line x1="407.87" y1="585.3" x2="407.87" y2="588.1" stroke="#8a8a8a" stroke-width="1"/>
<line x1="413.43" y1="585.3" x2="413.43" y2="588.1" stroke="#8a8a8a" stroke-width="1"/>
<line x1="419.00" y1="585.3" x2="419.00" y2="588.1" stroke="#8a8a8a" stroke-width="1"/>
<line x1="424.56" y1="585.3" x2="424.56" y2="588.1" stroke="#8a8a8a" stroke-width="1"/>
<line x1="430.12" y1="585.3" x2="430.12" y2="591.3" stroke="#8a8a8a" stroke-width="1.1"/>
<line x1="435.68" y1="585.3" x2="435.68" y2="588.1" stroke="#8a8a8a" stroke-width="1"/>
<line x1="441.24" y1="585.3" x2="441.24" y2="588.1" stroke="#8a8a8a" stroke-width="1"/>
<line x1="446.81" y1="585.3" x2="446.81" y2="588.1" stroke="#8a8a8a" stroke-width="1"/>
<line x1="452.37" y1="585.3" x2="452.37" y2="588.1" stroke="#8a8a8a" stroke-width="1"/>
<line x1="457.93" y1="585.3" x2="457.93" y2="591.3" stroke="#8a8a8a" stroke-width="1.1"/>
<line x1="463.49" y1="585.3" x2="463.49" y2="588.1" stroke="#8a8a8a" stroke-width="1"/>
<line x1="469.05" y1="585.3" x2="469.05" y2="588.1" stroke="#8a8a8a" stroke-width="1"/>
<line x1="474.62" y1="585.3" x2="474.62" y2="588.1" stroke="#8a8a8a" stroke-width="1"/>
<line x1="480.18" y1="585.3" x2="480.18" y2="588.1" stroke="#8a8a8a" stroke-width="1"/>
<line x1="485.74" y1="585.3" x2="485.74" y2="591.3" stroke="#8a8a8a" stroke-width="1.1"/>
<line x1="491.30" y1="585.3" x2="491.30" y2="588.1" stroke="#8a8a8a" stroke-width="1"/>
<line x1="496.86" y1="585.3" x2="496.86" y2="588.1" stroke="#8a8a8a" stroke-width="1"/>
<line x1="502.43" y1="585.3" x2="502.43" y2="588.1" stroke="#8a8a8a" stroke-width="1"/>
<line x1="507.99" y1="585.3" x2="507.99" y2="588.1" stroke="#8a8a8a" stroke-width="1"/>
<line x1="513.55" y1="585.3" x2="513.55" y2="591.3" stroke="#8a8a8a" stroke-width="1.1"/>
<line x1="519.11" y1="585.3" x2="519.11" y2="588.1" stroke="#8a8a8a" stroke-width="1"/>
<line x1="524.67" y1="585.3" x2="524.67" y2="588.1" stroke="#8a8a8a" stroke-width="1"/>
<line x1="530.24" y1="585.3" x2="530.24" y2="588.1" stroke="#8a8a8a" stroke-width="1"/>
<line x1="535.80" y1="585.3" x2="535.80" y2="588.1" stroke="#8a8a8a" stroke-width="1"/>
<line x1="541.36" y1="585.3" x2="541.36" y2="591.3" stroke="#8a8a8a" stroke-width="1.1"/>
<line x1="546.92" y1="585.3" x2="546.92" y2="588.1" stroke="#8a8a8a" stroke-width="1"/>
<line x1="552.48" y1="585.3" x2="552.48" y2="588.1" stroke="#8a8a8a" stroke-width="1"/>
<line x1="558.05" y1="585.3" x2="558.05" y2="588.1" stroke="#8a8a8a" stroke-width="1"/>
<line x1="563.61" y1="585.3" x2="563.61" y2="588.1" stroke="#8a8a8a" stroke-width="1"/>
<line x1="569.17" y1="585.3" x2="569.17" y2="591.3" stroke="#8a8a8a" stroke-width="1.1"/>
<line x1="574.73" y1="585.3" x2="574.73" y2="588.1" stroke="#8a8a8a" stroke-width="1"/>
<line x1="580.29" y1="585.3" x2="580.29" y2="588.1" stroke="#8a8a8a" stroke-width="1"/>
<line x1="585.86" y1="585.3" x2="585.86" y2="588.1" stroke="#8a8a8a" stroke-width="1"/>
<line x1="591.42" y1="585.3" x2="591.42" y2="588.1" stroke="#8a8a8a" stroke-width="1"/>
<line x1="596.98" y1="585.3" x2="596.98" y2="591.3" stroke="#8a8a8a" stroke-width="1.1"/>
<line x1="602.54" y1="585.3" x2="602.54" y2="588.1" stroke="#8a8a8a" stroke-width="1"/>
<line x1="608.10" y1="585.3" x2="608.10" y2="588.1" stroke="#8a8a8a" stroke-width="1"/>
<line x1="613.67" y1="585.3" x2="613.67" y2="588.1" stroke="#8a8a8a" stroke-width="1"/>
<line x1="619.23" y1="585.3" x2="619.23" y2="588.1" stroke="#8a8a8a" stroke-width="1"/>
<line x1="624.79" y1="585.3" x2="624.79" y2="591.3" stroke="#8a8a8a" stroke-width="1.1"/>
<line x1="630.35" y1="585.3" x2="630.35" y2="588.1" stroke="#8a8a8a" stroke-width="1"/>
<line x1="635.91" y1="585.3" x2="635.91" y2="588.1" stroke="#8a8a8a" stroke-width="1"/>
<line x1="641.48" y1="585.3" x2="641.48" y2="588.1" stroke="#8a8a8a" stroke-width="1"/>
<line x1="647.04" y1="585.3" x2="647.04" y2="588.1" stroke="#8a8a8a" stroke-width="1"/>
<line x1="652.60" y1="585.3" x2="652.60" y2="591.3" stroke="#8a8a8a" stroke-width="1.1"/>
<text x="367.4" y="586.30" text-anchor="end" font-family="Liberation Sans" font-weight="bold" font-size="12.6" fill="#1a1a1a" textLength="6.0" lengthAdjust="spacingAndGlyphs">0</text>
<text x="368.7" y="554.78" text-anchor="end" font-family="Liberation Sans" font-weight="bold" font-size="12.6" fill="#1a1a1a" textLength="16.5" lengthAdjust="spacingAndGlyphs">100</text>
<text x="368.7" y="519.67" text-anchor="end" font-family="Liberation Sans" font-weight="bold" font-size="12.6" fill="#1a1a1a" textLength="16.5" lengthAdjust="spacingAndGlyphs">200</text>
<text x="368.7" y="484.55" text-anchor="end" font-family="Liberation Sans" font-weight="bold" font-size="12.6" fill="#1a1a1a" textLength="16.5" lengthAdjust="spacingAndGlyphs">300</text>
<text x="368.7" y="449.43" text-anchor="end" font-family="Liberation Sans" font-weight="bold" font-size="12.6" fill="#1a1a1a" textLength="16.5" lengthAdjust="spacingAndGlyphs">400</text>
<text x="368.7" y="414.32" text-anchor="end" font-family="Liberation Sans" font-weight="bold" font-size="12.6" fill="#1a1a1a" textLength="16.5" lengthAdjust="spacingAndGlyphs">500</text>
<text x="368.7" y="379.20" text-anchor="end" font-family="Liberation Sans" font-weight="bold" font-size="12.6" fill="#1a1a1a" textLength="16.5" lengthAdjust="spacingAndGlyphs">600</text>
<text x="374.50" y="600.1" text-anchor="middle" font-family="Liberation Sans" font-size="8.4" fill="#2a2a2a" textLength="4.6" lengthAdjust="spacingAndGlyphs">0</text>
<text x="402.31" y="600.1" text-anchor="middle" font-family="Liberation Sans" font-size="8.4" fill="#2a2a2a" textLength="4.6" lengthAdjust="spacingAndGlyphs">5</text>
<text x="430.12" y="600.1" text-anchor="middle" font-family="Liberation Sans" font-size="8.4" fill="#2a2a2a" textLength="8.4" lengthAdjust="spacingAndGlyphs">10</text>
<text x="457.93" y="600.1" text-anchor="middle" font-family="Liberation Sans" font-size="8.4" fill="#2a2a2a" textLength="8.4" lengthAdjust="spacingAndGlyphs">15</text>
<text x="485.74" y="600.1" text-anchor="middle" font-family="Liberation Sans" font-size="8.4" fill="#2a2a2a" textLength="8.4" lengthAdjust="spacingAndGlyphs">20</text>
<text x="513.55" y="600.1" text-anchor="middle" font-family="Liberation Sans" font-size="8.4" fill="#2a2a2a" textLength="8.4" lengthAdjust="spacingAndGlyphs">25</text>
<text x="541.36" y="600.1" text-anchor="middle" font-family="Liberation Sans" font-size="8.4" fill="#2a2a2a" textLength="8.4" lengthAdjust="spacingAndGlyphs">30</text>
<text x="569.17" y="600.1" text-anchor="middle" font-family="Liberation Sans" font-size="8.4" fill="#2a2a2a" textLength="8.4" lengthAdjust="spacingAndGlyphs">35</text>
<text x="596.98" y="600.1" text-anchor="middle" font-family="Liberation Sans" font-size="8.4" fill="#2a2a2a" textLength="8.4" lengthAdjust="spacingAndGlyphs">40</text>
<text x="624.79" y="600.1" text-anchor="middle" font-family="Liberation Sans" font-size="8.4" fill="#2a2a2a" textLength="8.4" lengthAdjust="spacingAndGlyphs">45</text>
<text x="652.60" y="600.1" text-anchor="middle" font-family="Liberation Sans" font-size="8.4" fill="#2a2a2a" textLength="8.4" lengthAdjust="spacingAndGlyphs">50</text>
<text x="19.60" y="18.60" font-family="Liberation Sans" font-size="20.30" fill="#565656">a</text>
<text x="351.50" y="18.60" font-family="Liberation Sans" font-size="20.30" fill="#565656">b</text>
<text x="19.60" y="350.80" font-family="Liberation Sans" font-size="20.30" fill="#565656">c</text>
<text x="351.50" y="350.80" font-family="Liberation Sans" font-size="20.30" fill="#565656">d</text>
<text x="78.50" y="29.30" font-family="Liberation Serif" font-size="16.00" fill="#1e1e1e" font-style="italic" textLength="201.00" lengthAdjust="spacingAndGlyphs" stroke="#1e1e1e" stroke-width="0.22">Agkistrodon contortrix contortrix</text>
<text x="371.50" y="27.40" font-family="Liberation Serif" font-size="15.60" fill="#1e1e1e" font-style="italic" textLength="168.00" lengthAdjust="spacingAndGlyphs" stroke="#1e1e1e" stroke-width="0.22">Crotalus cerberus oreganus</text>
<text x="116.80" y="331.80" font-family="Liberation Serif" font-size="16.00" fill="#1e1e1e" font-style="italic" textLength="88.50" lengthAdjust="spacingAndGlyphs" stroke="#1e1e1e" stroke-width="0.22">Crotalus atrox</text>
<text x="450.00" y="331.70" font-family="Liberation Serif" font-size="15.60" fill="#1e1e1e" font-style="italic" textLength="95.50" lengthAdjust="spacingAndGlyphs" stroke="#1e1e1e" stroke-width="0.22">Crotalus viridis</text>
<text transform="translate(11.00,148.20) rotate(-90)" x="0" y="0" font-family="Liberation Sans" font-weight="bold" font-size="10.8" fill="#1a1a1a" textLength="75.80" lengthAdjust="spacingAndGlyphs">Absorbance</text>
<text transform="translate(347.20,149.60) rotate(-90)" x="0" y="0" font-family="Liberation Sans" font-weight="bold" font-size="10.8" fill="#1a1a1a" textLength="75.90" lengthAdjust="spacingAndGlyphs">Absorbance</text>
<text transform="translate(11.30,482.70) rotate(-90)" x="0" y="0" font-family="Liberation Sans" font-weight="bold" font-size="10.8" fill="#1a1a1a" textLength="74.70" lengthAdjust="spacingAndGlyphs">Absorbance</text>
<text transform="translate(348.90,481.30) rotate(-90)" x="0" y="0" font-family="Liberation Sans" font-weight="bold" font-size="10.8" fill="#1a1a1a" textLength="74.80" lengthAdjust="spacingAndGlyphs">Absorbance</text>
<text x="171.60" y="279.80" font-family="Liberation Sans" font-size="12.80" fill="#1a1a1a" font-weight="bold" textLength="39.20" lengthAdjust="spacingAndGlyphs">minutes</text>
<text x="508.40" y="281.10" font-family="Liberation Sans" font-size="12.80" fill="#1a1a1a" font-weight="bold" textLength="38.80" lengthAdjust="spacingAndGlyphs">minutes</text>
<text x="172.40" y="614.60" font-family="Liberation Sans" font-size="12.80" fill="#1a1a1a" font-weight="bold" textLength="38.40" lengthAdjust="spacingAndGlyphs">minutes</text>
<text x="509.60" y="613.20" font-family="Liberation Sans" font-size="12.80" fill="#1a1a1a" font-weight="bold" textLength="38.70" lengthAdjust="spacingAndGlyphs">minutes</text>
<line x1="514.1" y1="36.3" x2="518.2" y2="36.3" stroke="#777" stroke-width="1"/>
<line x1="0" y1="619.3" x2="17.3" y2="619.3" stroke="#9a9a9a" stroke-width="1"/>
<rect x="72.50" y="53.50" width="15.90" height="136.20" fill="url(#a1)"/>
<rect x="90.60" y="53.50" width="18.10" height="136.20" fill="url(#a2)"/>
<rect x="110.00" y="53.50" width="16.20" height="136.20" fill="url(#a3)"/>
<g clip-path="url(#a3c)"><ellipse cx="118.10" cy="126.00" rx="6.00" ry="11.00" fill="#38289a" opacity="0.55" filter="url(#bl14)"/></g>
<rect x="110.00" y="108.00" width="2.00" height="36.00" fill="url(#a3l)"/>
<rect x="124.20" y="108.00" width="2.00" height="36.00" fill="url(#a3r)"/>
<text x="57.50" y="58.60" font-family="Liberation Sans" font-size="5.90" fill="#0e0e0e" font-weight="bold" text-anchor="end" textLength="17.80" lengthAdjust="spacingAndGlyphs" stroke="#0e0e0e" stroke-width="0.15">250 KDa</text>
<line x1="59.20" y1="56.50" x2="70.60" y2="56.50" stroke="#262626" stroke-width="1.1"/>
<text x="57.50" y="71.20" font-family="Liberation Sans" font-size="5.90" fill="#0e0e0e" font-weight="bold" text-anchor="end" textLength="17.80" lengthAdjust="spacingAndGlyphs" stroke="#0e0e0e" stroke-width="0.15">160 KDa</text>
<line x1="59.20" y1="70.50" x2="70.60" y2="70.50" stroke="#262626" stroke-width="1.1"/>
<text x="57.50" y="77.00" font-family="Liberation Sans" font-size="5.90" fill="#0e0e0e" font-weight="bold" text-anchor="end" textLength="17.80" lengthAdjust="spacingAndGlyphs" stroke="#0e0e0e" stroke-width="0.15">105 KDa</text>
<line x1="59.20" y1="74.50" x2="70.60" y2="74.50" stroke="#262626" stroke-width="1.1"/>
<text x="57.50" y="84.40" font-family="Liberation Sans" font-size="5.90" fill="#0e0e0e" font-weight="bold" text-anchor="end" textLength="15.60" lengthAdjust="spacingAndGlyphs" stroke="#0e0e0e" stroke-width="0.15">75 KDa</text>
<line x1="59.20" y1="82.50" x2="70.60" y2="82.50" stroke="#262626" stroke-width="1.1"/>
<text x="57.50" y="90.70" font-family="Liberation Sans" font-size="5.90" fill="#0e0e0e" font-weight="bold" text-anchor="end" textLength="15.60" lengthAdjust="spacingAndGlyphs" stroke="#0e0e0e" stroke-width="0.15">50 KDa</text>
<line x1="59.20" y1="88.50" x2="70.60" y2="88.50" stroke="#262626" stroke-width="1.1"/>
<text x="57.50" y="96.50" font-family="Liberation Sans" font-size="5.90" fill="#0e0e0e" font-weight="bold" text-anchor="end" textLength="15.60" lengthAdjust="spacingAndGlyphs" stroke="#0e0e0e" stroke-width="0.15">35 KDa</text>
<line x1="59.20" y1="94.50" x2="70.60" y2="94.50" stroke="#262626" stroke-width="1.1"/>
<text x="57.50" y="106.70" font-family="Liberation Sans" font-size="5.90" fill="#0e0e0e" font-weight="bold" text-anchor="end" textLength="15.60" lengthAdjust="spacingAndGlyphs" stroke="#0e0e0e" stroke-width="0.15">30 KDa</text>
<line x1="59.20" y1="104.50" x2="70.60" y2="104.50" stroke="#262626" stroke-width="1.1"/>
<text x="57.50" y="133.50" font-family="Liberation Sans" font-size="5.90" fill="#0e0e0e" font-weight="bold" text-anchor="end" textLength="15.60" lengthAdjust="spacingAndGlyphs" stroke="#0e0e0e" stroke-width="0.15">25 KDa</text>
<line x1="59.20" y1="131.50" x2="70.60" y2="131.50" stroke="#262626" stroke-width="1.1"/>
<text x="57.50" y="158.60" font-family="Liberation Sans" font-size="5.90" fill="#0e0e0e" font-weight="bold" text-anchor="end" textLength="15.60" lengthAdjust="spacingAndGlyphs" stroke="#0e0e0e" stroke-width="0.15">15 KDa</text>
<line x1="59.20" y1="156.50" x2="70.60" y2="156.50" stroke="#262626" stroke-width="1.1"/>
<text x="57.50" y="175.00" font-family="Liberation Sans" font-size="5.90" fill="#0e0e0e" font-weight="bold" text-anchor="end" textLength="15.60" lengthAdjust="spacingAndGlyphs" stroke="#0e0e0e" stroke-width="0.15">10 KDa</text>
<line x1="59.20" y1="172.50" x2="70.60" y2="172.50" stroke="#262626" stroke-width="1.1"/>
<path d="M98.40,51.20 V43.60 H118.60 V51.20" fill="none" stroke="#333" stroke-width="0.9"/><text x="102.60" y="43.00" font-family="Liberation Sans" font-size="6.40" fill="#222" textLength="10.60" lengthAdjust="spacingAndGlyphs">ACC</text>
<text x="90.80" y="196.40" font-family="Liberation Sans" font-size="6.20" fill="#0e0e0e" font-weight="bold" textLength="15.80" lengthAdjust="spacingAndGlyphs" stroke="#0e0e0e" stroke-width="0.15">Venom</text><text x="108.80" y="196.40" font-family="Liberation Sans" font-size="6.20" fill="#0e0e0e" font-weight="bold" textLength="21.10" lengthAdjust="spacingAndGlyphs" stroke="#0e0e0e" stroke-width="0.15">Exosome</text>
<rect x="530.00" y="38.90" width="17.70" height="136.80" fill="url(#b1)"/>
<rect x="549.90" y="38.90" width="20.50" height="136.80" fill="url(#b2)"/>
<g clip-path="url(#b2c)"><ellipse cx="560.20" cy="127.50" rx="9.00" ry="8.50" fill="#2038d8" opacity="0.50" filter="url(#bl16)"/></g>
<rect x="572.30" y="38.90" width="15.10" height="136.80" fill="url(#b3)"/>
<rect x="583.40" y="38.90" width="4.00" height="137.00" fill="url(#b3e)"/>
<text x="516.50" y="44.60" font-family="Liberation Sans" font-size="5.90" fill="#0e0e0e" font-weight="bold" text-anchor="end" textLength="17.80" lengthAdjust="spacingAndGlyphs" stroke="#0e0e0e" stroke-width="0.15">250 KDa</text>
<line x1="518.60" y1="42.50" x2="529.70" y2="42.50" stroke="#262626" stroke-width="1.1"/>
<text x="516.50" y="57.90" font-family="Liberation Sans" font-size="5.90" fill="#0e0e0e" font-weight="bold" text-anchor="end" textLength="17.80" lengthAdjust="spacingAndGlyphs" stroke="#0e0e0e" stroke-width="0.15">160 KDa</text>
<line x1="518.60" y1="56.50" x2="529.70" y2="56.50" stroke="#262626" stroke-width="1.1"/>
<text x="516.50" y="62.90" font-family="Liberation Sans" font-size="5.90" fill="#0e0e0e" font-weight="bold" text-anchor="end" textLength="17.80" lengthAdjust="spacingAndGlyphs" stroke="#0e0e0e" stroke-width="0.15">105 KDa</text>
<line x1="518.60" y1="60.50" x2="529.70" y2="60.50" stroke="#262626" stroke-width="1.1"/>
<text x="516.50" y="70.80" font-family="Liberation Sans" font-size="5.90" fill="#0e0e0e" font-weight="bold" text-anchor="end" textLength="15.60" lengthAdjust="spacingAndGlyphs" stroke="#0e0e0e" stroke-width="0.15">75 KDa</text>
<line x1="518.60" y1="68.50" x2="529.70" y2="68.50" stroke="#262626" stroke-width="1.1"/>
<text x="516.50" y="77.30" font-family="Liberation Sans" font-size="5.90" fill="#0e0e0e" font-weight="bold" text-anchor="end" textLength="15.60" lengthAdjust="spacingAndGlyphs" stroke="#0e0e0e" stroke-width="0.15">50 KDa</text>
<line x1="518.60" y1="75.50" x2="529.70" y2="75.50" stroke="#262626" stroke-width="1.1"/>
<text x="516.50" y="82.70" font-family="Liberation Sans" font-size="5.90" fill="#0e0e0e" font-weight="bold" text-anchor="end" textLength="15.60" lengthAdjust="spacingAndGlyphs" stroke="#0e0e0e" stroke-width="0.15">35 KDa</text>
<line x1="518.60" y1="80.50" x2="529.70" y2="80.50" stroke="#262626" stroke-width="1.1"/>
<text x="516.50" y="92.70" font-family="Liberation Sans" font-size="5.90" fill="#0e0e0e" font-weight="bold" text-anchor="end" textLength="15.60" lengthAdjust="spacingAndGlyphs" stroke="#0e0e0e" stroke-width="0.15">30 KDa</text>
<line x1="518.60" y1="90.50" x2="529.70" y2="90.50" stroke="#262626" stroke-width="1.1"/>
<text x="516.50" y="120.10" font-family="Liberation Sans" font-size="5.90" fill="#0e0e0e" font-weight="bold" text-anchor="end" textLength="15.60" lengthAdjust="spacingAndGlyphs" stroke="#0e0e0e" stroke-width="0.15">25 KDa</text>
<line x1="518.60" y1="118.50" x2="529.70" y2="118.50" stroke="#262626" stroke-width="1.1"/>
<text x="516.50" y="145.30" font-family="Liberation Sans" font-size="5.90" fill="#0e0e0e" font-weight="bold" text-anchor="end" textLength="15.60" lengthAdjust="spacingAndGlyphs" stroke="#0e0e0e" stroke-width="0.15">15 KDa</text>
<line x1="518.60" y1="143.50" x2="529.70" y2="143.50" stroke="#262626" stroke-width="1.1"/>
<text x="516.50" y="161.20" font-family="Liberation Sans" font-size="5.90" fill="#0e0e0e" font-weight="bold" text-anchor="end" textLength="15.60" lengthAdjust="spacingAndGlyphs" stroke="#0e0e0e" stroke-width="0.15">10 KDa</text>
<line x1="518.60" y1="159.50" x2="529.70" y2="159.50" stroke="#262626" stroke-width="1.1"/>
<path d="M555.40,38.00 V31.30 H579.50 V38.00" fill="none" stroke="#333" stroke-width="0.9"/><text x="560.80" y="30.00" font-family="Liberation Sans" font-size="6.40" fill="#222" textLength="12.40" lengthAdjust="spacingAndGlyphs">C.O.</text>
<text x="551.90" y="184.30" font-family="Liberation Sans" font-size="6.20" fill="#0e0e0e" font-weight="bold" textLength="16.60" lengthAdjust="spacingAndGlyphs" stroke="#0e0e0e" stroke-width="0.15">Venom</text><text x="571.10" y="184.30" font-family="Liberation Sans" font-size="6.20" fill="#0e0e0e" font-weight="bold" textLength="20.40" lengthAdjust="spacingAndGlyphs" stroke="#0e0e0e" stroke-width="0.15">Exosome</text>
<rect x="75.50" y="366.80" width="17.30" height="134.70" fill="url(#c1)"/>
<rect x="95.10" y="366.80" width="18.90" height="134.70" fill="url(#c2)"/>
<rect x="116.00" y="366.80" width="21.60" height="134.70" fill="url(#c3)"/>
<g clip-path="url(#c3c)"><ellipse cx="123.60" cy="405.60" rx="3.20" ry="2.20" fill="#583c9c" opacity="0.85" filter="url(#bl9)"/></g>
<g clip-path="url(#c3c)"><ellipse cx="130.20" cy="405.60" rx="3.20" ry="2.20" fill="#583c9c" opacity="0.85" filter="url(#bl9)"/></g>
<g clip-path="url(#c3c)"><ellipse cx="123.40" cy="424.60" rx="3.60" ry="2.60" fill="#40209a" opacity="0.90" filter="url(#bl9)"/></g>
<g clip-path="url(#c3c)"><ellipse cx="130.80" cy="424.60" rx="3.80" ry="2.60" fill="#40209a" opacity="0.90" filter="url(#bl9)"/></g>
<rect x="116.00" y="366.80" width="2.40" height="134.70" fill="url(#c3l)"/>
<rect x="135.20" y="366.80" width="2.40" height="134.70" fill="url(#c3r)"/>
<text x="61.60" y="372.30" font-family="Liberation Sans" font-size="5.90" fill="#0e0e0e" font-weight="bold" text-anchor="end" textLength="17.80" lengthAdjust="spacingAndGlyphs" stroke="#0e0e0e" stroke-width="0.15">250 KDa</text>
<line x1="63.20" y1="370.50" x2="75.20" y2="370.50" stroke="#262626" stroke-width="1.1"/>
<text x="61.60" y="384.60" font-family="Liberation Sans" font-size="5.90" fill="#0e0e0e" font-weight="bold" text-anchor="end" textLength="17.80" lengthAdjust="spacingAndGlyphs" stroke="#0e0e0e" stroke-width="0.15">160 KDa</text>
<line x1="63.20" y1="383.50" x2="75.20" y2="383.50" stroke="#262626" stroke-width="1.1"/>
<text x="61.60" y="391.20" font-family="Liberation Sans" font-size="5.90" fill="#0e0e0e" font-weight="bold" text-anchor="end" textLength="17.80" lengthAdjust="spacingAndGlyphs" stroke="#0e0e0e" stroke-width="0.15">105 KDa</text>
<line x1="63.20" y1="388.50" x2="75.20" y2="388.50" stroke="#262626" stroke-width="1.1"/>
<text x="61.60" y="397.90" font-family="Liberation Sans" font-size="5.90" fill="#0e0e0e" font-weight="bold" text-anchor="end" textLength="15.60" lengthAdjust="spacingAndGlyphs" stroke="#0e0e0e" stroke-width="0.15">75 KDa</text>
<line x1="63.20" y1="395.50" x2="75.20" y2="395.50" stroke="#262626" stroke-width="1.1"/>
<text x="61.60" y="404.00" font-family="Liberation Sans" font-size="5.90" fill="#0e0e0e" font-weight="bold" text-anchor="end" textLength="15.60" lengthAdjust="spacingAndGlyphs" stroke="#0e0e0e" stroke-width="0.15">50 KDa</text>
<line x1="63.20" y1="401.50" x2="75.20" y2="401.50" stroke="#262626" stroke-width="1.1"/>
<text x="61.60" y="410.10" font-family="Liberation Sans" font-size="5.90" fill="#0e0e0e" font-weight="bold" text-anchor="end" textLength="15.60" lengthAdjust="spacingAndGlyphs" stroke="#0e0e0e" stroke-width="0.15">35 KDa</text>
<line x1="63.20" y1="408.50" x2="75.20" y2="408.50" stroke="#262626" stroke-width="1.1"/>
<text x="61.60" y="420.50" font-family="Liberation Sans" font-size="5.90" fill="#0e0e0e" font-weight="bold" text-anchor="end" textLength="15.60" lengthAdjust="spacingAndGlyphs" stroke="#0e0e0e" stroke-width="0.15">30 KDa</text>
<line x1="63.20" y1="418.50" x2="75.20" y2="418.50" stroke="#262626" stroke-width="1.1"/>
<text x="61.60" y="447.50" font-family="Liberation Sans" font-size="5.90" fill="#0e0e0e" font-weight="bold" text-anchor="end" textLength="15.60" lengthAdjust="spacingAndGlyphs" stroke="#0e0e0e" stroke-width="0.15">25 KDa</text>
<line x1="63.20" y1="445.50" x2="75.20" y2="445.50" stroke="#262626" stroke-width="1.1"/>
<text x="61.60" y="472.70" font-family="Liberation Sans" font-size="5.90" fill="#0e0e0e" font-weight="bold" text-anchor="end" textLength="15.60" lengthAdjust="spacingAndGlyphs" stroke="#0e0e0e" stroke-width="0.15">15 KDa</text>
<line x1="63.20" y1="470.50" x2="75.20" y2="470.50" stroke="#262626" stroke-width="1.1"/>
<text x="61.60" y="488.10" font-family="Liberation Sans" font-size="5.90" fill="#0e0e0e" font-weight="bold" text-anchor="end" textLength="15.60" lengthAdjust="spacingAndGlyphs" stroke="#0e0e0e" stroke-width="0.15">10 KDa</text>
<line x1="63.20" y1="486.50" x2="75.20" y2="486.50" stroke="#262626" stroke-width="1.1"/>
<path d="M102.90,364.30 V356.40 H128.50 V364.30" fill="none" stroke="#333" stroke-width="0.9"/><text x="107.40" y="355.60" font-family="Liberation Sans" font-size="6.40" fill="#222" textLength="10.60" lengthAdjust="spacingAndGlyphs">C.A</text>
<text x="94.10" y="508.20" font-family="Liberation Sans" font-size="6.20" fill="#0e0e0e" font-weight="bold" textLength="16.10" lengthAdjust="spacingAndGlyphs" stroke="#0e0e0e" stroke-width="0.15">Venom</text><text x="118.30" y="508.20" font-family="Liberation Sans" font-size="6.20" fill="#0e0e0e" font-weight="bold" textLength="20.90" lengthAdjust="spacingAndGlyphs" stroke="#0e0e0e" stroke-width="0.15">Exosome</text>
<rect x="560.40" y="357.60" width="18.10" height="137.10" fill="url(#d1)"/>
<rect x="580.10" y="357.60" width="22.70" height="137.10" fill="url(#d2)"/>
<rect x="594.0" y="357.6" width="8.8" height="137.1" fill="url(#d2h)"/>
<rect x="605.10" y="357.60" width="20.90" height="137.10" fill="url(#d3)"/>
<g clip-path="url(#d3c)"><ellipse cx="615.80" cy="412.20" rx="6.50" ry="2.60" fill="#8a5a9a" opacity="0.38" filter="url(#bl10)"/></g>
<g clip-path="url(#d2c)"><ellipse cx="588.60" cy="446.50" rx="8.20" ry="8.50" fill="#2a40dc" opacity="0.75" filter="url(#bl15)"/></g>
<rect x="605.10" y="357.60" width="3.00" height="137.00" fill="url(#d3l)"/>
<rect x="623.00" y="357.60" width="3.00" height="137.00" fill="url(#d3r)"/>
<text x="547.30" y="363.60" font-family="Liberation Sans" font-size="5.90" fill="#0e0e0e" font-weight="bold" text-anchor="end" textLength="17.80" lengthAdjust="spacingAndGlyphs" stroke="#0e0e0e" stroke-width="0.15">250 KDa</text>
<line x1="548.40" y1="361.50" x2="559.80" y2="361.50" stroke="#262626" stroke-width="1.1"/>
<text x="547.30" y="376.50" font-family="Liberation Sans" font-size="5.90" fill="#0e0e0e" font-weight="bold" text-anchor="end" textLength="17.80" lengthAdjust="spacingAndGlyphs" stroke="#0e0e0e" stroke-width="0.15">160 KDa</text>
<line x1="548.40" y1="375.50" x2="559.80" y2="375.50" stroke="#262626" stroke-width="1.1"/>
<text x="547.30" y="382.20" font-family="Liberation Sans" font-size="5.90" fill="#0e0e0e" font-weight="bold" text-anchor="end" textLength="17.80" lengthAdjust="spacingAndGlyphs" stroke="#0e0e0e" stroke-width="0.15">105 KDa</text>
<line x1="548.40" y1="379.50" x2="559.80" y2="379.50" stroke="#262626" stroke-width="1.1"/>
<text x="547.30" y="389.60" font-family="Liberation Sans" font-size="5.90" fill="#0e0e0e" font-weight="bold" text-anchor="end" textLength="15.60" lengthAdjust="spacingAndGlyphs" stroke="#0e0e0e" stroke-width="0.15">75 KDa</text>
<line x1="548.40" y1="387.50" x2="559.80" y2="387.50" stroke="#262626" stroke-width="1.1"/>
<text x="547.30" y="395.80" font-family="Liberation Sans" font-size="5.90" fill="#0e0e0e" font-weight="bold" text-anchor="end" textLength="15.60" lengthAdjust="spacingAndGlyphs" stroke="#0e0e0e" stroke-width="0.15">50 KDa</text>
<line x1="548.40" y1="393.50" x2="559.80" y2="393.50" stroke="#262626" stroke-width="1.1"/>
<text x="547.30" y="401.60" font-family="Liberation Sans" font-size="5.90" fill="#0e0e0e" font-weight="bold" text-anchor="end" textLength="15.60" lengthAdjust="spacingAndGlyphs" stroke="#0e0e0e" stroke-width="0.15">35 KDa</text>
<line x1="548.40" y1="399.50" x2="559.80" y2="399.50" stroke="#262626" stroke-width="1.1"/>
<text x="547.30" y="411.90" font-family="Liberation Sans" font-size="5.90" fill="#0e0e0e" font-weight="bold" text-anchor="end" textLength="15.60" lengthAdjust="spacingAndGlyphs" stroke="#0e0e0e" stroke-width="0.15">30 KDa</text>
<line x1="548.40" y1="409.50" x2="559.80" y2="409.50" stroke="#262626" stroke-width="1.1"/>
<text x="547.30" y="438.80" font-family="Liberation Sans" font-size="5.90" fill="#0e0e0e" font-weight="bold" text-anchor="end" textLength="15.60" lengthAdjust="spacingAndGlyphs" stroke="#0e0e0e" stroke-width="0.15">25 KDa</text>
<line x1="548.40" y1="436.50" x2="559.80" y2="436.50" stroke="#262626" stroke-width="1.1"/>
<text x="547.30" y="463.90" font-family="Liberation Sans" font-size="5.90" fill="#0e0e0e" font-weight="bold" text-anchor="end" textLength="15.60" lengthAdjust="spacingAndGlyphs" stroke="#0e0e0e" stroke-width="0.15">15 KDa</text>
<line x1="548.40" y1="461.50" x2="559.80" y2="461.50" stroke="#262626" stroke-width="1.1"/>
<text x="547.30" y="480.10" font-family="Liberation Sans" font-size="5.90" fill="#0e0e0e" font-weight="bold" text-anchor="end" textLength="15.60" lengthAdjust="spacingAndGlyphs" stroke="#0e0e0e" stroke-width="0.15">10 KDa</text>
<line x1="548.40" y1="478.50" x2="559.80" y2="478.50" stroke="#262626" stroke-width="1.1"/>
<path d="M591.70,355.60 V349.10 H617.20 V355.60" fill="none" stroke="#333" stroke-width="0.9"/><text x="597.40" y="348.20" font-family="Liberation Sans" font-size="6.40" fill="#222" textLength="11.40" lengthAdjust="spacingAndGlyphs">C.V.</text>
<text x="582.00" y="501.00" font-family="Liberation Sans" font-size="6.20" fill="#0e0e0e" font-weight="bold" textLength="15.80" lengthAdjust="spacingAndGlyphs" stroke="#0e0e0e" stroke-width="0.15">Venom</text><text x="605.90" y="501.00" font-family="Liberation Sans" font-size="6.20" fill="#0e0e0e" font-weight="bold" textLength="21.00" lengthAdjust="spacingAndGlyphs" stroke="#0e0e0e" stroke-width="0.15">Exosome</text>
<line x1="132.4" y1="56.0" x2="132.4" y2="252.4" stroke="#6e6e6e" stroke-width="1"/>
<line x1="452.6" y1="65.9" x2="452.6" y2="253.1" stroke="#666" stroke-width="1"/>
<line x1="143.4" y1="381.0" x2="143.4" y2="586.2" stroke="#6e6e6e" stroke-width="1"/>
<line x1="452.9" y1="394.5" x2="452.9" y2="585.4" stroke="#a8a8a8" stroke-width="1.6"/>
<path d="M37.50,247.30 C37.92,247.22 39.08,246.95 40.00,246.80 C40.92,246.65 41.93,246.62 43.00,246.40 C44.07,246.18 45.23,245.47 46.40,245.50 C47.57,245.53 48.57,246.27 50.00,246.60 C51.43,246.93 53.00,247.27 55.00,247.50 C57.00,247.73 57.83,247.92 62.00,248.00 C66.17,248.08 72.00,248.00 80.00,248.00 C88.00,248.00 101.67,248.02 110.00,248.00 C118.33,247.98 125.57,247.93 130.00,247.90 C134.43,247.87 135.10,248.20 136.60,247.80 C138.10,247.40 138.18,247.30 139.00,245.50 C139.82,243.70 140.75,242.58 141.50,237.00 C142.25,231.42 142.77,222.67 143.50,212.00 C144.23,201.33 145.15,178.17 145.90,173.00 C146.65,167.83 147.32,176.33 148.00,181.00 C148.68,185.67 149.32,196.38 150.00,201.00 C150.68,205.62 150.95,207.73 152.10,208.70 C153.25,209.67 155.67,209.08 156.90,206.80 C158.13,204.52 158.68,199.03 159.50,195.00 C160.32,190.97 160.78,186.85 161.80,182.60 C162.82,178.35 164.53,174.27 165.60,169.50 C166.67,164.73 167.30,157.87 168.20,154.00 C169.10,150.13 170.07,146.80 171.00,146.30 C171.93,145.80 172.92,149.17 173.80,151.00 C174.68,152.83 175.52,157.80 176.30,157.30 C177.08,156.80 177.72,154.55 178.50,148.00 C179.28,141.45 180.08,128.17 181.00,118.00 C181.92,107.83 183.08,93.92 184.00,87.00 C184.92,80.08 185.67,76.33 186.50,76.50 C187.33,76.67 188.17,80.42 189.00,88.00 C189.83,95.58 190.67,109.67 191.50,122.00 C192.33,134.33 193.17,151.33 194.00,162.00 C194.83,172.67 195.63,180.87 196.50,186.00 C197.37,191.13 198.28,192.30 199.20,192.80 C200.12,193.30 201.03,192.80 202.00,189.00 C202.97,185.20 204.08,175.28 205.00,170.00 C205.92,164.72 206.67,158.13 207.50,157.30 C208.33,156.47 209.08,160.22 210.00,165.00 C210.92,169.78 211.83,179.33 213.00,186.00 C214.17,192.67 215.42,199.78 217.00,205.00 C218.58,210.22 221.08,215.03 222.50,217.30 C223.92,219.57 224.25,218.40 225.50,218.60 C226.75,218.80 228.50,217.93 230.00,218.50 C231.50,219.07 233.02,220.53 234.50,222.00 C235.98,223.47 237.82,227.47 238.90,227.30 C239.98,227.13 240.27,223.58 241.00,221.00 C241.73,218.42 242.43,213.70 243.30,211.80 C244.17,209.90 245.25,210.53 246.20,209.60 C247.15,208.67 247.73,206.27 249.00,206.20 C250.27,206.13 252.22,207.72 253.80,209.20 C255.38,210.68 257.38,216.80 258.50,215.10 C259.62,213.40 259.85,205.85 260.50,199.00 C261.15,192.15 261.75,179.48 262.40,174.00 C263.05,168.52 263.72,166.43 264.40,166.10 C265.08,165.77 265.82,168.52 266.50,172.00 C267.18,175.48 267.80,182.17 268.50,187.00 C269.20,191.83 269.63,193.67 270.70,201.00 C271.77,208.33 273.50,224.67 274.90,231.00 C276.30,237.33 277.55,237.87 279.10,239.00 C280.65,240.13 282.38,237.43 284.20,237.80 C286.02,238.17 288.03,240.13 290.00,241.20 C291.97,242.27 292.87,243.70 296.00,244.20 C299.13,244.70 306.67,244.20 308.80,244.20" fill="none" stroke="#717390" stroke-width="1.1" stroke-linejoin="round"/>
<path d="M374.00,247.30 C374.85,247.37 377.27,247.82 379.10,247.70 C380.93,247.58 383.10,247.15 385.00,246.60 C386.90,246.05 388.33,245.53 390.50,244.40 C392.67,243.27 395.48,240.97 398.00,239.80 C400.52,238.63 403.60,237.70 405.60,237.40 C407.60,237.10 408.35,237.53 410.00,238.00 C411.65,238.47 412.95,239.13 415.50,240.20 C418.05,241.27 422.55,243.33 425.30,244.40 C428.05,245.47 429.60,245.97 432.00,246.60 C434.40,247.23 436.90,247.78 439.70,248.20 C442.50,248.62 446.65,249.08 448.80,249.10 C450.95,249.12 451.27,248.65 452.60,248.30 C453.93,247.95 455.55,247.63 456.80,247.00 C458.05,246.37 458.98,246.03 460.10,244.50 C461.22,242.97 462.52,240.88 463.50,237.80 C464.48,234.72 465.30,229.95 466.00,226.00 C466.70,222.05 467.05,218.33 467.70,214.10 C468.35,209.87 469.25,205.10 469.90,200.60 C470.55,196.10 470.98,190.75 471.60,187.10 C472.22,183.45 472.98,181.78 473.60,178.70 C474.22,175.62 474.78,172.82 475.30,168.60 C475.82,164.38 476.17,161.33 476.70,153.40 C477.23,145.47 477.82,130.87 478.50,121.00 C479.18,111.13 480.02,95.10 480.80,94.20 C481.58,93.30 482.38,104.27 483.20,115.60 C484.02,126.93 484.95,150.10 485.70,162.20 C486.45,174.30 486.98,188.20 487.70,188.20 C488.42,188.20 489.15,175.80 490.00,162.20 C490.85,148.60 492.02,112.53 492.80,106.60 C493.58,100.67 494.15,120.30 494.70,126.60 C495.25,132.90 495.42,140.98 496.10,144.40 C496.78,147.82 497.88,142.77 498.80,147.10 C499.72,151.43 500.68,162.42 501.60,170.40 C502.52,178.38 503.40,189.98 504.30,195.00 C505.20,200.02 505.77,200.27 507.00,200.50 C508.23,200.73 510.32,195.48 511.70,196.40 C513.08,197.32 514.15,201.20 515.30,206.00 C516.45,210.80 517.23,219.72 518.60,225.20 C519.97,230.68 521.32,236.22 523.50,238.90 C525.68,241.58 529.28,240.83 531.70,241.30 C534.12,241.77 535.85,241.20 538.00,241.70 C540.15,242.20 542.78,243.57 544.60,244.30 C546.42,245.03 547.17,245.78 548.90,246.10 C550.63,246.42 553.37,246.30 555.00,246.20 C556.63,246.10 557.53,246.78 558.70,245.50 C559.87,244.22 560.92,240.65 562.00,238.50 C563.08,236.35 563.93,232.97 565.20,232.60 C566.47,232.23 568.33,235.53 569.60,236.30 C570.87,237.07 571.83,237.45 572.80,237.20 C573.77,236.95 574.32,234.22 575.40,234.80 C576.48,235.38 577.92,238.82 579.30,240.70 C580.68,242.58 582.35,244.67 583.70,246.10 C585.05,247.53 586.32,254.02 587.40,249.30 C588.48,244.58 589.37,232.10 590.20,217.80 C591.03,203.50 591.67,177.27 592.40,163.50 C593.13,149.73 593.88,137.02 594.60,135.20 C595.32,133.38 595.80,140.63 596.70,152.60 C597.60,164.57 598.90,192.87 600.00,207.00 C601.10,221.13 601.85,230.18 603.30,237.40 C604.75,244.62 606.17,248.20 608.70,250.30 C611.23,252.40 615.53,249.87 618.50,250.00 C621.47,250.13 625.17,250.92 626.50,251.10" fill="none" stroke="#717390" stroke-width="1.1" stroke-linejoin="round"/>
<path d="M37.50,579.60 C38.75,579.60 42.72,579.48 45.00,579.60 C47.28,579.72 42.03,580.17 51.20,580.30 C60.37,580.43 85.20,580.42 100.00,580.40 C114.80,580.38 132.17,580.33 140.00,580.20 C147.83,580.07 145.17,579.95 147.00,579.60 C148.83,579.25 149.88,579.17 151.00,578.10 C152.12,577.03 152.93,575.38 153.70,573.20 C154.47,571.02 154.92,568.20 155.60,565.00 C156.28,561.80 156.98,558.12 157.80,554.00 C158.62,549.88 159.37,544.40 160.50,540.30 C161.63,536.20 163.60,532.78 164.60,529.40 C165.60,526.02 165.85,523.23 166.50,520.00 C167.15,516.77 167.90,514.13 168.50,510.00 C169.10,505.87 169.58,500.20 170.10,495.20 C170.62,490.20 171.12,486.03 171.60,480.00 C172.08,473.97 172.57,464.43 173.00,459.00 C173.43,453.57 173.83,450.02 174.20,447.40 C174.57,444.78 174.78,442.82 175.20,443.30 C175.62,443.78 176.13,444.55 176.70,450.30 C177.27,456.05 178.05,471.03 178.60,477.80 C179.15,484.57 179.48,491.62 180.00,490.90 C180.52,490.18 181.12,480.75 181.70,473.50 C182.28,466.25 182.88,453.32 183.50,447.40 C184.12,441.48 184.85,437.77 185.40,438.00 C185.95,438.23 186.08,445.30 186.80,448.80 C187.52,452.30 188.85,454.88 189.70,459.00 C190.55,463.12 191.05,466.25 191.90,473.50 C192.75,480.75 193.95,495.02 194.80,502.50 C195.65,509.98 196.25,513.82 197.00,518.40 C197.75,522.98 198.32,525.88 199.30,530.00 C200.28,534.12 201.38,539.55 202.90,543.10 C204.42,546.65 206.80,550.17 208.40,551.30 C210.00,552.43 211.32,549.62 212.50,549.90 C213.68,550.18 214.37,551.63 215.50,553.00 C216.63,554.37 217.42,556.32 219.30,558.10 C221.18,559.88 224.43,562.02 226.80,563.70 C229.17,565.38 231.45,567.18 233.50,568.20 C235.55,569.22 237.60,569.80 239.10,569.80 C240.60,569.80 241.18,569.02 242.50,568.20 C243.82,567.38 245.50,565.15 247.00,564.90 C248.50,564.65 250.00,566.25 251.50,566.70 C253.00,567.15 254.50,568.10 256.00,567.60 C257.50,567.10 259.18,564.72 260.50,563.70 C261.82,562.68 262.77,564.68 263.90,561.50 C265.03,558.32 266.17,548.92 267.30,544.60 C268.43,540.28 269.58,534.85 270.70,535.60 C271.82,536.35 272.77,544.97 274.00,549.10 C275.23,553.23 276.88,557.47 278.10,560.40 C279.32,563.33 280.28,571.97 281.30,566.70 C282.32,561.43 283.35,542.62 284.20,528.80 C285.05,514.98 285.65,493.07 286.40,483.80 C287.15,474.53 287.95,472.83 288.70,473.20 C289.45,473.57 290.15,477.48 290.90,486.00 C291.65,494.52 292.25,512.28 293.20,524.30 C294.15,536.32 295.28,549.65 296.60,558.10 C297.92,566.55 299.42,571.62 301.10,575.00 C302.78,578.38 304.08,578.22 306.70,578.40 C309.32,578.58 315.12,576.48 316.80,576.10" fill="none" stroke="#717390" stroke-width="1.1" stroke-linejoin="round"/>
<path d="M374.50,578.90 C375.08,579.12 376.42,579.80 378.00,580.20 C379.58,580.60 381.83,581.10 384.00,581.30 C386.17,581.50 383.33,581.40 391.00,581.40 C398.67,581.40 418.77,581.33 430.00,581.30 C441.23,581.27 453.17,582.33 458.40,581.20 C463.63,580.07 460.38,579.20 461.40,574.50 C462.42,569.80 463.37,558.62 464.50,553.00 C465.63,547.38 467.18,545.63 468.20,540.80 C469.22,535.97 469.65,529.62 470.60,524.00 C471.55,518.38 473.08,510.40 473.90,507.10 C474.72,503.80 474.88,504.60 475.50,504.20 C476.12,503.80 476.93,509.32 477.60,504.70 C478.27,500.08 478.92,485.78 479.50,476.50 C480.08,467.22 480.57,455.05 481.10,449.00 C481.63,442.95 482.15,439.65 482.70,440.20 C483.25,440.75 483.72,444.38 484.40,452.30 C485.08,460.22 486.05,478.35 486.80,487.70 C487.55,497.05 488.23,507.85 488.90,508.40 C489.57,508.95 490.17,500.35 490.80,491.00 C491.43,481.65 492.17,461.98 492.70,452.30 C493.23,442.62 493.58,436.80 494.00,432.90 C494.42,429.00 494.78,428.37 495.20,428.90 C495.62,429.43 496.02,432.20 496.50,436.10 C496.98,440.00 497.57,447.73 498.10,452.30 C498.63,456.87 499.03,460.28 499.70,463.50 C500.37,466.72 501.43,468.10 502.10,471.60 C502.77,475.10 503.17,479.12 503.70,484.50 C504.23,489.88 504.77,498.25 505.30,503.90 C505.83,509.55 506.30,513.78 506.90,518.40 C507.50,523.02 507.55,526.33 508.90,531.60 C510.25,536.87 512.72,544.38 515.00,550.00 C517.28,555.62 520.93,562.20 522.60,565.30 C524.27,568.40 523.72,567.32 525.00,568.60 C526.28,569.88 528.53,571.97 530.30,573.00 C532.07,574.03 533.53,574.20 535.60,574.80 C537.67,575.40 540.48,576.30 542.70,576.60 C544.92,576.90 547.27,577.20 548.90,576.60 C550.53,576.00 551.17,574.33 552.50,573.00 C553.83,571.67 555.28,569.40 556.90,568.60 C558.52,567.80 560.28,568.80 562.20,568.20 C564.12,567.60 566.77,567.00 568.40,565.00 C570.03,563.00 570.82,559.58 572.00,556.20 C573.18,552.82 574.53,546.53 575.50,544.70 C576.47,542.87 576.83,545.50 577.80,545.20 C578.77,544.90 580.20,541.95 581.30,542.90 C582.40,543.85 583.30,547.22 584.40,550.90 C585.50,554.58 586.82,561.62 587.90,565.00 C588.98,568.38 590.02,573.55 590.90,571.20 C591.78,568.85 592.52,559.30 593.20,550.90 C593.88,542.50 594.40,527.15 595.00,520.80 C595.60,514.45 596.07,511.92 596.80,512.80 C597.53,513.68 598.37,518.87 599.40,526.10 C600.43,533.33 601.82,548.23 603.00,556.20 C604.18,564.17 605.33,569.92 606.50,573.90 C607.67,577.88 608.58,578.87 610.00,580.10 C611.42,581.33 610.35,581.07 615.00,581.30 C619.65,581.53 634.08,581.47 637.90,581.50" fill="none" stroke="#717390" stroke-width="1.1" stroke-linejoin="round"/>
<path d="M38,247.6 C41,245 44,246.5 47,247.8 S 55,248.3 60,248" fill="none" stroke="#c8c890" stroke-width="1" opacity="0.8"/>
<line x1="72.4" y1="248.2" x2="91" y2="248.2" stroke="#d8c0c0" stroke-width="1.2"/>
<path d="M439.4,248.3 C444,248.9 450,249.3 455.3,248.8" fill="none" stroke="#3a2c24" stroke-width="1.3"/>
<circle cx="447.7" cy="249.3" r="1.1" fill="#2a2020"/>
<line x1="37.5" y1="579.9" x2="150" y2="580.4" stroke="#9494c4" stroke-width="1.1"/>
<line x1="391" y1="581.3" x2="422.3" y2="581.3" stroke="#d4c0a8" stroke-width="1.3"/>
<ellipse cx="390.4" cy="244.4" rx="1.2" ry="0.8" fill="#3a3a50" opacity="0.8"/>
<ellipse cx="402.0" cy="238.4" rx="1.2" ry="0.8" fill="#3a3a50" opacity="0.8"/>
<ellipse cx="409.5" cy="238.6" rx="1.2" ry="0.8" fill="#3a3a50" opacity="0.8"/>
<ellipse cx="424.8" cy="244.2" rx="1.2" ry="0.8" fill="#3a3a50" opacity="0.8"/>
</svg>
</body></html>
